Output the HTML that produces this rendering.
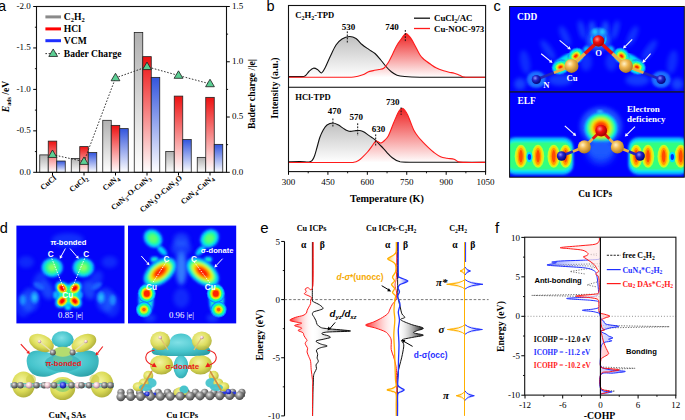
<!DOCTYPE html>
<html><head><meta charset="utf-8"><title>Figure</title>
<style>html,body{margin:0;padding:0;background:#fff;overflow:hidden}svg{display:block}</style></head>
<body><svg width="685" height="420" viewBox="0 0 685 420">
<defs>
<linearGradient id="gg" x1="0" y1="0" x2="0" y2="1"><stop offset="0" stop-color="#b0b0b0"/><stop offset="1" stop-color="#ffffff"/></linearGradient>
<linearGradient id="gr" x1="0" y1="0" x2="0" y2="1"><stop offset="0" stop-color="#ee1111"/><stop offset="1" stop-color="#ffffff"/></linearGradient>
<linearGradient id="gb" x1="0" y1="0" x2="0" y2="1"><stop offset="0" stop-color="#3355dd"/><stop offset="1" stop-color="#ffffff"/></linearGradient>
<linearGradient id="bgk" x1="0" y1="0" x2="0" y2="1"><stop offset="0" stop-color="#c0c0c0"/><stop offset="1" stop-color="#ffffff"/></linearGradient>
<linearGradient id="bgr" x1="0" y1="0" x2="0" y2="1"><stop offset="0" stop-color="#ee2222"/><stop offset="1" stop-color="#ffffff" stop-opacity="1"/></linearGradient>
<filter id="bl05" x="-20%" y="-20%" width="140%" height="140%"><feGaussianBlur stdDeviation="0.7"/></filter>
<filter id="bl1" x="-20%" y="-20%" width="140%" height="140%"><feGaussianBlur stdDeviation="1.1"/></filter>
<filter id="bl2" x="-30%" y="-30%" width="160%" height="160%"><feGaussianBlur stdDeviation="2.2"/></filter>
<filter id="bl3" x="-30%" y="-30%" width="160%" height="160%"><feGaussianBlur stdDeviation="3.5"/></filter>
<clipPath id="cCDD"><rect x="509.6" y="6.5" width="174.69999999999993" height="85.3"/></clipPath>
<clipPath id="cELF"><rect x="509.6" y="91.8" width="174.69999999999993" height="85.39999999999999"/></clipPath>
<radialGradient id="atCu" cx="0.38" cy="0.35" r="0.7"><stop offset="0" stop-color="#fff2c8"/><stop offset="0.4" stop-color="#f0b850"/><stop offset="1" stop-color="#a87420"/></radialGradient>
<radialGradient id="atO" cx="0.38" cy="0.35" r="0.7"><stop offset="0" stop-color="#ff9090"/><stop offset="0.4" stop-color="#ee1010"/><stop offset="1" stop-color="#990000"/></radialGradient>
<radialGradient id="atN" cx="0.38" cy="0.35" r="0.7"><stop offset="0" stop-color="#9090ff"/><stop offset="0.4" stop-color="#2222c8"/><stop offset="1" stop-color="#000070"/></radialGradient>
<clipPath id="dclip0"><rect x="16.4" y="225.6" width="108.1" height="97.79999999999998"/></clipPath>
<clipPath id="dclip1"><rect x="128.0" y="225.6" width="108.19999999999999" height="97.79999999999998"/></clipPath>
<radialGradient id="yel" cx="0.42" cy="0.38" r="0.7"><stop offset="0" stop-color="#f4f4a0"/><stop offset="0.55" stop-color="#dcdc58"/><stop offset="1" stop-color="#a4a434"/></radialGradient>
<radialGradient id="cya" cx="0.45" cy="0.4" r="0.75"><stop offset="0" stop-color="#80e0e6"/><stop offset="0.55" stop-color="#46c4cc"/><stop offset="1" stop-color="#26989f"/></radialGradient>
<radialGradient id="gat" cx="0.38" cy="0.35" r="0.7"><stop offset="0" stop-color="#e8e8e8"/><stop offset="0.45" stop-color="#8c8c8c"/><stop offset="1" stop-color="#3c3c3c"/></radialGradient>
<radialGradient id="pat" cx="0.38" cy="0.35" r="0.7"><stop offset="0" stop-color="#ffffff"/><stop offset="0.5" stop-color="#f0c8d0"/><stop offset="1" stop-color="#907080"/></radialGradient>
<radialGradient id="bat" cx="0.38" cy="0.35" r="0.7"><stop offset="0" stop-color="#a0a0ff"/><stop offset="0.5" stop-color="#3040e0"/><stop offset="1" stop-color="#101080"/></radialGradient>
<linearGradient id="eRed" gradientUnits="objectBoundingBox" x1="0" y1="0" x2="1" y2="0"><stop offset="0" stop-color="#ff2a2a"/><stop offset="1" stop-color="#ffffff" stop-opacity="0"/></linearGradient>
<linearGradient id="eBlk" gradientUnits="objectBoundingBox" x1="0" y1="0" x2="1" y2="0"><stop offset="0" stop-color="#ffffff" stop-opacity="0"/><stop offset="1" stop-color="#111111"/></linearGradient>
<linearGradient id="eOrg" gradientUnits="objectBoundingBox" x1="0" y1="0" x2="1" y2="0"><stop offset="0" stop-color="#ffb000"/><stop offset="1" stop-color="#ffffff" stop-opacity="0"/></linearGradient>
<linearGradient id="eBlu" gradientUnits="objectBoundingBox" x1="0" y1="0" x2="1" y2="0"><stop offset="0" stop-color="#ffffff" stop-opacity="0"/><stop offset="1" stop-color="#2a3bff"/></linearGradient>
<linearGradient id="fBluL" gradientUnits="objectBoundingBox" x1="0" y1="0" x2="1" y2="0"><stop offset="0" stop-color="#6070ff" stop-opacity="0.85"/><stop offset="1" stop-color="#ffffff" stop-opacity="0"/></linearGradient>
<linearGradient id="fRedL" gradientUnits="objectBoundingBox" x1="0" y1="0" x2="1" y2="0"><stop offset="0" stop-color="#ff5555" stop-opacity="0.5"/><stop offset="1" stop-color="#ffdddd" stop-opacity="0.5"/></linearGradient>
<linearGradient id="fBluR" gradientUnits="objectBoundingBox" x1="0" y1="0" x2="1" y2="0"><stop offset="0" stop-color="#dde0ff" stop-opacity="0.8"/><stop offset="1" stop-color="#8890ff" stop-opacity="0.8"/></linearGradient>
<linearGradient id="fRedR" gradientUnits="objectBoundingBox" x1="0" y1="0" x2="1" y2="0"><stop offset="0" stop-color="#ffe0e0" stop-opacity="0.8"/><stop offset="1" stop-color="#ff8888" stop-opacity="0.8"/></linearGradient>
</defs>
<rect x="0" y="0" width="685" height="420" fill="#fff"/>
<text x="-1.95" y="11.00" style="font-family:'Liberation Sans',sans-serif;font-size:14.5px;font-weight:normal;font-style:normal" text-anchor="start" fill="#000" >a</text>
<rect x="39.75" y="154.89" width="8.50" height="17.41" fill="url(#gg)" stroke="#222" stroke-width="0.8"/>
<rect x="48.25" y="141.13" width="8.50" height="31.17" fill="url(#gr)" stroke="#222" stroke-width="0.8"/>
<rect x="56.75" y="161.03" width="8.50" height="11.27" fill="url(#gb)" stroke="#222" stroke-width="0.8"/>
<rect x="71.25" y="158.54" width="8.50" height="13.76" fill="url(#gg)" stroke="#222" stroke-width="0.8"/>
<rect x="79.75" y="146.60" width="8.50" height="25.70" fill="url(#gr)" stroke="#222" stroke-width="0.8"/>
<rect x="88.25" y="152.57" width="8.50" height="19.73" fill="url(#gb)" stroke="#222" stroke-width="0.8"/>
<rect x="102.75" y="120.32" width="8.50" height="51.98" fill="url(#gg)" stroke="#222" stroke-width="0.8"/>
<rect x="111.25" y="125.38" width="8.50" height="46.92" fill="url(#gr)" stroke="#222" stroke-width="0.8"/>
<rect x="119.75" y="128.61" width="8.50" height="43.69" fill="url(#gb)" stroke="#222" stroke-width="0.8"/>
<rect x="134.25" y="32.45" width="8.50" height="139.85" fill="url(#gg)" stroke="#222" stroke-width="0.8"/>
<rect x="142.75" y="56.65" width="8.50" height="115.65" fill="url(#gr)" stroke="#222" stroke-width="0.8"/>
<rect x="151.25" y="77.38" width="8.50" height="94.92" fill="url(#gb)" stroke="#222" stroke-width="0.8"/>
<rect x="165.75" y="151.58" width="8.50" height="20.73" fill="url(#gg)" stroke="#222" stroke-width="0.8"/>
<rect x="174.25" y="96.11" width="8.50" height="76.19" fill="url(#gr)" stroke="#222" stroke-width="0.8"/>
<rect x="182.75" y="139.55" width="8.50" height="32.75" fill="url(#gb)" stroke="#222" stroke-width="0.8"/>
<rect x="197.25" y="157.38" width="8.50" height="14.92" fill="url(#gg)" stroke="#222" stroke-width="0.8"/>
<rect x="205.75" y="97.36" width="8.50" height="74.94" fill="url(#gr)" stroke="#222" stroke-width="0.8"/>
<rect x="214.25" y="144.36" width="8.50" height="27.94" fill="url(#gb)" stroke="#222" stroke-width="0.8"/>
<path d="M52.50,154.61 L84.00,161.58 L115.50,77.90 L147.00,66.74 L178.50,75.47 L210.00,83.87" stroke="#222" stroke-width="0.9" fill="none" stroke-dasharray="1.6,1.6"/>
<path d="M52.50,149.98 L56.90,157.46 L48.10,157.46 Z" fill="#5ccf94" stroke="#1a1a1a" stroke-width="0.8"/>
<path d="M84.00,156.94 L88.40,164.42 L79.60,164.42 Z" fill="#5ccf94" stroke="#1a1a1a" stroke-width="0.8"/>
<path d="M115.50,73.27 L119.90,80.75 L111.10,80.75 Z" fill="#5ccf94" stroke="#1a1a1a" stroke-width="0.8"/>
<path d="M147.00,62.10 L151.40,69.58 L142.60,69.58 Z" fill="#5ccf94" stroke="#1a1a1a" stroke-width="0.8"/>
<path d="M178.50,70.84 L182.90,78.32 L174.10,78.32 Z" fill="#5ccf94" stroke="#1a1a1a" stroke-width="0.8"/>
<path d="M210.00,79.24 L214.40,86.72 L205.60,86.72 Z" fill="#5ccf94" stroke="#1a1a1a" stroke-width="0.8"/>
<rect x="36.5" y="6.5" width="190.0" height="165.8" fill="none" stroke="#111" stroke-width="1.1"/>
<line x1="33.20" y1="172.30" x2="36.50" y2="172.30" stroke="#000" stroke-width="1" />
<text x="30.70" y="174.60" style="font-family:'Liberation Serif',serif;font-size:9px;font-weight:normal;font-style:normal" text-anchor="end" fill="#000" >0.0</text>
<line x1="34.90" y1="151.58" x2="36.50" y2="151.58" stroke="#000" stroke-width="0.9" />
<line x1="33.20" y1="130.85" x2="36.50" y2="130.85" stroke="#000" stroke-width="1" />
<text x="30.70" y="133.15" style="font-family:'Liberation Serif',serif;font-size:9px;font-weight:normal;font-style:normal" text-anchor="end" fill="#000" >-0.5</text>
<line x1="34.90" y1="110.12" x2="36.50" y2="110.12" stroke="#000" stroke-width="0.9" />
<line x1="33.20" y1="89.40" x2="36.50" y2="89.40" stroke="#000" stroke-width="1" />
<text x="30.70" y="91.70" style="font-family:'Liberation Serif',serif;font-size:9px;font-weight:normal;font-style:normal" text-anchor="end" fill="#000" >-1.0</text>
<line x1="34.90" y1="68.68" x2="36.50" y2="68.68" stroke="#000" stroke-width="0.9" />
<line x1="33.20" y1="47.95" x2="36.50" y2="47.95" stroke="#000" stroke-width="1" />
<text x="30.70" y="50.25" style="font-family:'Liberation Serif',serif;font-size:9px;font-weight:normal;font-style:normal" text-anchor="end" fill="#000" >-1.5</text>
<line x1="34.90" y1="27.22" x2="36.50" y2="27.22" stroke="#000" stroke-width="0.9" />
<line x1="33.20" y1="6.50" x2="36.50" y2="6.50" stroke="#000" stroke-width="1" />
<text x="30.70" y="8.80" style="font-family:'Liberation Serif',serif;font-size:9px;font-weight:normal;font-style:normal" text-anchor="end" fill="#000" >-2.0</text>
<line x1="226.50" y1="172.30" x2="229.80" y2="172.30" stroke="#000" stroke-width="1" />
<text x="232.10" y="174.60" style="font-family:'Liberation Serif',serif;font-size:9px;font-weight:normal;font-style:normal" text-anchor="start" fill="#000" >0.0</text>
<line x1="226.50" y1="144.67" x2="228.10" y2="144.67" stroke="#000" stroke-width="0.9" />
<line x1="226.50" y1="117.03" x2="229.80" y2="117.03" stroke="#000" stroke-width="1" />
<text x="232.10" y="119.33" style="font-family:'Liberation Serif',serif;font-size:9px;font-weight:normal;font-style:normal" text-anchor="start" fill="#000" >0.5</text>
<line x1="226.50" y1="89.40" x2="228.10" y2="89.40" stroke="#000" stroke-width="0.9" />
<line x1="226.50" y1="61.77" x2="229.80" y2="61.77" stroke="#000" stroke-width="1" />
<text x="232.10" y="64.07" style="font-family:'Liberation Serif',serif;font-size:9px;font-weight:normal;font-style:normal" text-anchor="start" fill="#000" >1.0</text>
<line x1="226.50" y1="34.13" x2="228.10" y2="34.13" stroke="#000" stroke-width="0.9" />
<line x1="226.50" y1="6.50" x2="229.80" y2="6.50" stroke="#000" stroke-width="1" />
<text x="232.10" y="8.80" style="font-family:'Liberation Serif',serif;font-size:9px;font-weight:normal;font-style:normal" text-anchor="start" fill="#000" >1.5</text>
<line x1="52.50" y1="172.30" x2="52.50" y2="175.50" stroke="#000" stroke-width="1" />
<line x1="84.00" y1="172.30" x2="84.00" y2="175.50" stroke="#000" stroke-width="1" />
<line x1="115.50" y1="172.30" x2="115.50" y2="175.50" stroke="#000" stroke-width="1" />
<line x1="147.00" y1="172.30" x2="147.00" y2="175.50" stroke="#000" stroke-width="1" />
<line x1="178.50" y1="172.30" x2="178.50" y2="175.50" stroke="#000" stroke-width="1" />
<line x1="210.00" y1="172.30" x2="210.00" y2="175.50" stroke="#000" stroke-width="1" />
<text x="56.70" y="178.90" transform="rotate(-40 56.70 178.90)" text-anchor="end" style="font-family:'Liberation Serif',serif;font-size:7.9px;font-weight:bold">CuCl</text>
<text x="88.20" y="178.90" transform="rotate(-40 88.20 178.90)" text-anchor="end" style="font-family:'Liberation Serif',serif;font-size:7.9px;font-weight:bold">CuCl<tspan font-size="6" dy="2">2</tspan></text>
<text x="119.70" y="178.90" transform="rotate(-40 119.70 178.90)" text-anchor="end" style="font-family:'Liberation Serif',serif;font-size:7.9px;font-weight:bold">CuN<tspan font-size="6" dy="2">4</tspan></text>
<text x="151.20" y="178.90" transform="rotate(-40 151.20 178.90)" text-anchor="end" style="font-family:'Liberation Serif',serif;font-size:7.9px;font-weight:bold">CuN<tspan font-size="6" dy="2">3</tspan><tspan dy="-2">-O-CuN</tspan><tspan font-size="6" dy="2">3</tspan></text>
<text x="182.70" y="178.90" transform="rotate(-40 182.70 178.90)" text-anchor="end" style="font-family:'Liberation Serif',serif;font-size:7.9px;font-weight:bold">CuN<tspan font-size="6" dy="2">3</tspan><tspan dy="-2">O-CuN</tspan><tspan font-size="6" dy="2">3</tspan><tspan dy="-2">O</tspan></text>
<text x="214.20" y="178.90" transform="rotate(-40 214.20 178.90)" text-anchor="end" style="font-family:'Liberation Serif',serif;font-size:7.9px;font-weight:bold">CuN<tspan font-size="6" dy="2">4</tspan><tspan dy="-2">-CuN</tspan><tspan font-size="6" dy="2">4</tspan></text>
<line x1="45.40" y1="16.90" x2="61.00" y2="16.90" stroke="#8a8a8a" stroke-width="3" />
<line x1="45.40" y1="28.90" x2="61.00" y2="28.90" stroke="#ff0000" stroke-width="3" />
<line x1="45.40" y1="40.70" x2="61.00" y2="40.70" stroke="#1f2fff" stroke-width="3" />
<line x1="45.40" y1="53.60" x2="61.00" y2="53.60" stroke="#222" stroke-width="0.9" stroke-dasharray="1.6,1.6"/>
<path d="M53.20,48.96 L57.60,56.44 L48.80,56.44 Z" fill="#5ccf94" stroke="#1a1a1a" stroke-width="0.8"/>
<text x="63.8" y="20.4" style="font-family:'Liberation Serif',serif;font-size:9.6px;font-weight:bold">C<tspan font-size="6.5" dy="2">2</tspan><tspan dy="-2">H</tspan><tspan font-size="6.5" dy="2">2</tspan></text>
<text x="63.80" y="32.30" style="font-family:'Liberation Serif',serif;font-size:9.6px;font-weight:bold;font-style:normal" text-anchor="start" fill="#000" >HCl</text>
<text x="63.80" y="44.10" style="font-family:'Liberation Serif',serif;font-size:9.6px;font-weight:bold;font-style:normal" text-anchor="start" fill="#000" >VCM</text>
<text x="63.80" y="57.00" style="font-family:'Liberation Serif',serif;font-size:9.6px;font-weight:bold;font-style:normal" text-anchor="start" fill="#000" >Bader Charge</text>
<text x="8.8" y="96.5" transform="rotate(-90 8.8 96.5)" text-anchor="middle" style="font-family:'Liberation Serif',serif;font-size:9.6px;font-weight:bold"><tspan font-style="italic">E</tspan><tspan font-size="6" dy="2">ads</tspan><tspan dy="-2"> /eV</tspan></text>
<text x="254.8" y="94" transform="rotate(-90 254.8 94)" text-anchor="middle" style="font-family:'Liberation Serif',serif;font-size:9.8px;font-weight:bold">Bader charge /|e|</text>
<text x="266.45" y="10.90" style="font-family:'Liberation Sans',sans-serif;font-size:14.5px;font-weight:normal;font-style:normal" text-anchor="start" fill="#000" >b</text>
<path d="M288.50,76.60 C290.42,76.60 297.25,76.70 300.00,76.60 C302.75,76.50 303.50,76.85 305.00,76.00 C306.50,75.15 307.60,72.80 309.00,71.50 C310.40,70.20 311.98,68.53 313.40,68.20 C314.82,67.87 316.15,68.70 317.50,69.50 C318.85,70.30 320.25,73.25 321.50,73.00 C322.75,72.75 323.58,70.67 325.00,68.00 C326.42,65.33 328.17,60.83 330.00,57.00 C331.83,53.17 334.00,48.00 336.00,45.00 C338.00,42.00 339.77,40.42 342.00,39.00 C344.23,37.58 347.07,36.58 349.40,36.50 C351.73,36.42 353.90,37.17 356.00,38.50 C358.10,39.83 359.87,42.68 362.00,44.50 C364.13,46.32 366.63,47.90 368.80,49.40 C370.97,50.90 373.00,51.73 375.00,53.50 C377.00,55.27 378.97,57.83 380.80,60.00 C382.63,62.17 384.25,64.53 386.00,66.50 C387.75,68.47 389.47,70.35 391.30,71.80 C393.13,73.25 394.77,74.42 397.00,75.20 C399.23,75.98 400.87,76.17 404.70,76.50 C408.53,76.83 412.45,77.07 420.00,77.20 C427.55,77.33 439.03,77.28 450.00,77.30 C460.97,77.32 479.83,77.30 485.80,77.30 L485.80,77.30 L288.50,77.30 Z" fill="url(#bgk)" stroke="none"/>
<path d="M288.50,77.20 C297.08,77.20 329.12,77.23 340.00,77.20 C350.88,77.17 350.00,77.40 353.80,77.00 C357.60,76.60 360.43,75.63 362.80,74.80 C365.17,73.97 366.25,72.70 368.00,72.00 C369.75,71.30 371.47,71.02 373.30,70.60 C375.13,70.18 377.25,69.90 379.00,69.50 C380.75,69.10 382.30,69.28 383.80,68.20 C385.30,67.12 386.52,65.38 388.00,63.00 C389.48,60.62 391.28,56.73 392.70,53.90 C394.12,51.07 395.25,48.25 396.50,46.00 C397.75,43.75 398.68,42.43 400.20,40.40 C401.72,38.37 404.13,34.53 405.60,33.80 C407.07,33.07 407.90,34.90 409.00,36.00 C410.10,37.10 411.03,38.48 412.20,40.40 C413.37,42.32 414.75,45.15 416.00,47.50 C417.25,49.85 418.53,52.67 419.70,54.50 C420.87,56.33 421.88,57.38 423.00,58.50 C424.12,59.62 425.07,60.20 426.40,61.20 C427.73,62.20 429.40,63.40 431.00,64.50 C432.60,65.60 433.90,66.75 436.00,67.80 C438.10,68.85 441.43,70.07 443.60,70.80 C445.77,71.53 447.22,71.80 449.00,72.20 C450.78,72.60 452.53,72.68 454.30,73.20 C456.07,73.72 458.00,74.67 459.60,75.30 C461.20,75.93 462.17,76.67 463.90,77.00 C465.63,77.33 466.38,77.25 470.00,77.30 C473.62,77.35 483.00,77.30 485.60,77.30 L485.60,77.30 L288.50,77.30 Z" fill="url(#bgr)" stroke="none"/>
<path d="M288.50,161.80 C290.42,161.77 296.58,161.57 300.00,161.60 C303.42,161.63 306.97,162.20 309.00,162.00 C311.03,161.80 311.28,161.40 312.20,160.40 C313.12,159.40 313.70,158.15 314.50,156.00 C315.30,153.85 316.12,150.58 317.00,147.50 C317.88,144.42 318.77,140.43 319.80,137.50 C320.83,134.57 322.00,131.98 323.20,129.90 C324.40,127.82 325.38,126.15 327.00,125.00 C328.62,123.85 331.07,123.03 332.90,123.00 C334.73,122.97 336.25,123.90 338.00,124.80 C339.75,125.70 341.90,127.45 343.40,128.40 C344.90,129.35 345.77,130.00 347.00,130.50 C348.23,131.00 349.47,131.37 350.80,131.40 C352.13,131.43 353.50,130.85 355.00,130.70 C356.50,130.55 358.30,130.28 359.80,130.50 C361.30,130.72 362.75,131.35 364.00,132.00 C365.25,132.65 366.05,133.53 367.30,134.40 C368.55,135.27 370.10,136.20 371.50,137.20 C372.90,138.20 374.12,138.93 375.70,140.40 C377.28,141.87 379.15,144.02 381.00,146.00 C382.85,147.98 384.97,150.38 386.80,152.30 C388.63,154.22 390.02,156.00 392.00,157.50 C393.98,159.00 395.70,160.52 398.70,161.30 C401.70,162.08 395.48,162.03 410.00,162.20 C424.52,162.37 473.17,162.28 485.80,162.30 L485.80,162.30 L288.50,162.30 Z" fill="url(#bgk)" stroke="none"/>
<path d="M288.50,162.50 C297.92,162.50 334.12,162.53 345.00,162.50 C355.88,162.47 351.55,162.63 353.80,162.30 C356.05,161.97 357.00,161.42 358.50,160.50 C360.00,159.58 361.30,158.22 362.80,156.80 C364.30,155.38 366.00,153.73 367.50,152.00 C369.00,150.27 370.43,148.20 371.80,146.40 C373.17,144.60 374.58,141.93 375.70,141.20 C376.82,140.47 377.62,141.70 378.50,142.00 C379.38,142.30 380.00,143.25 381.00,143.00 C382.00,142.75 383.28,141.68 384.50,140.50 C385.72,139.32 387.05,138.15 388.30,135.90 C389.55,133.65 390.77,130.00 392.00,127.00 C393.23,124.00 394.53,120.57 395.70,117.90 C396.87,115.23 397.90,112.60 399.00,111.00 C400.10,109.40 401.30,108.38 402.30,108.30 C403.30,108.22 404.10,109.40 405.00,110.50 C405.90,111.60 406.78,112.98 407.70,114.90 C408.62,116.82 409.50,119.50 410.50,122.00 C411.50,124.50 412.45,127.48 413.70,129.90 C414.95,132.32 416.50,134.50 418.00,136.50 C419.50,138.50 420.92,140.00 422.70,141.90 C424.48,143.80 426.82,146.13 428.70,147.90 C430.58,149.67 432.02,151.02 434.00,152.50 C435.98,153.98 438.43,155.83 440.60,156.80 C442.77,157.77 444.75,157.90 447.00,158.30 C449.25,158.70 452.17,158.60 454.10,159.20 C456.03,159.80 456.78,161.37 458.60,161.90 C460.42,162.43 460.47,162.32 465.00,162.40 C469.53,162.48 482.33,162.40 485.80,162.40 L485.80,162.40 L288.50,162.40 Z" fill="url(#bgr)" stroke="none"/>
<path d="M288.50,76.60 C290.42,76.60 297.25,76.70 300.00,76.60 C302.75,76.50 303.50,76.85 305.00,76.00 C306.50,75.15 307.60,72.80 309.00,71.50 C310.40,70.20 311.98,68.53 313.40,68.20 C314.82,67.87 316.15,68.70 317.50,69.50 C318.85,70.30 320.25,73.25 321.50,73.00 C322.75,72.75 323.58,70.67 325.00,68.00 C326.42,65.33 328.17,60.83 330.00,57.00 C331.83,53.17 334.00,48.00 336.00,45.00 C338.00,42.00 339.77,40.42 342.00,39.00 C344.23,37.58 347.07,36.58 349.40,36.50 C351.73,36.42 353.90,37.17 356.00,38.50 C358.10,39.83 359.87,42.68 362.00,44.50 C364.13,46.32 366.63,47.90 368.80,49.40 C370.97,50.90 373.00,51.73 375.00,53.50 C377.00,55.27 378.97,57.83 380.80,60.00 C382.63,62.17 384.25,64.53 386.00,66.50 C387.75,68.47 389.47,70.35 391.30,71.80 C393.13,73.25 394.77,74.42 397.00,75.20 C399.23,75.98 400.87,76.17 404.70,76.50 C408.53,76.83 412.45,77.07 420.00,77.20 C427.55,77.33 439.03,77.28 450.00,77.30 C460.97,77.32 479.83,77.30 485.80,77.30" fill="none" stroke="#111" stroke-width="1.1"/>
<path d="M288.50,77.20 C297.08,77.20 329.12,77.23 340.00,77.20 C350.88,77.17 350.00,77.40 353.80,77.00 C357.60,76.60 360.43,75.63 362.80,74.80 C365.17,73.97 366.25,72.70 368.00,72.00 C369.75,71.30 371.47,71.02 373.30,70.60 C375.13,70.18 377.25,69.90 379.00,69.50 C380.75,69.10 382.30,69.28 383.80,68.20 C385.30,67.12 386.52,65.38 388.00,63.00 C389.48,60.62 391.28,56.73 392.70,53.90 C394.12,51.07 395.25,48.25 396.50,46.00 C397.75,43.75 398.68,42.43 400.20,40.40 C401.72,38.37 404.13,34.53 405.60,33.80 C407.07,33.07 407.90,34.90 409.00,36.00 C410.10,37.10 411.03,38.48 412.20,40.40 C413.37,42.32 414.75,45.15 416.00,47.50 C417.25,49.85 418.53,52.67 419.70,54.50 C420.87,56.33 421.88,57.38 423.00,58.50 C424.12,59.62 425.07,60.20 426.40,61.20 C427.73,62.20 429.40,63.40 431.00,64.50 C432.60,65.60 433.90,66.75 436.00,67.80 C438.10,68.85 441.43,70.07 443.60,70.80 C445.77,71.53 447.22,71.80 449.00,72.20 C450.78,72.60 452.53,72.68 454.30,73.20 C456.07,73.72 458.00,74.67 459.60,75.30 C461.20,75.93 462.17,76.67 463.90,77.00 C465.63,77.33 466.38,77.25 470.00,77.30 C473.62,77.35 483.00,77.30 485.60,77.30" fill="none" stroke="#ff1a1a" stroke-width="1.1"/>
<path d="M288.50,161.80 C290.42,161.77 296.58,161.57 300.00,161.60 C303.42,161.63 306.97,162.20 309.00,162.00 C311.03,161.80 311.28,161.40 312.20,160.40 C313.12,159.40 313.70,158.15 314.50,156.00 C315.30,153.85 316.12,150.58 317.00,147.50 C317.88,144.42 318.77,140.43 319.80,137.50 C320.83,134.57 322.00,131.98 323.20,129.90 C324.40,127.82 325.38,126.15 327.00,125.00 C328.62,123.85 331.07,123.03 332.90,123.00 C334.73,122.97 336.25,123.90 338.00,124.80 C339.75,125.70 341.90,127.45 343.40,128.40 C344.90,129.35 345.77,130.00 347.00,130.50 C348.23,131.00 349.47,131.37 350.80,131.40 C352.13,131.43 353.50,130.85 355.00,130.70 C356.50,130.55 358.30,130.28 359.80,130.50 C361.30,130.72 362.75,131.35 364.00,132.00 C365.25,132.65 366.05,133.53 367.30,134.40 C368.55,135.27 370.10,136.20 371.50,137.20 C372.90,138.20 374.12,138.93 375.70,140.40 C377.28,141.87 379.15,144.02 381.00,146.00 C382.85,147.98 384.97,150.38 386.80,152.30 C388.63,154.22 390.02,156.00 392.00,157.50 C393.98,159.00 395.70,160.52 398.70,161.30 C401.70,162.08 395.48,162.03 410.00,162.20 C424.52,162.37 473.17,162.28 485.80,162.30" fill="none" stroke="#111" stroke-width="1.1"/>
<path d="M288.50,162.50 C297.92,162.50 334.12,162.53 345.00,162.50 C355.88,162.47 351.55,162.63 353.80,162.30 C356.05,161.97 357.00,161.42 358.50,160.50 C360.00,159.58 361.30,158.22 362.80,156.80 C364.30,155.38 366.00,153.73 367.50,152.00 C369.00,150.27 370.43,148.20 371.80,146.40 C373.17,144.60 374.58,141.93 375.70,141.20 C376.82,140.47 377.62,141.70 378.50,142.00 C379.38,142.30 380.00,143.25 381.00,143.00 C382.00,142.75 383.28,141.68 384.50,140.50 C385.72,139.32 387.05,138.15 388.30,135.90 C389.55,133.65 390.77,130.00 392.00,127.00 C393.23,124.00 394.53,120.57 395.70,117.90 C396.87,115.23 397.90,112.60 399.00,111.00 C400.10,109.40 401.30,108.38 402.30,108.30 C403.30,108.22 404.10,109.40 405.00,110.50 C405.90,111.60 406.78,112.98 407.70,114.90 C408.62,116.82 409.50,119.50 410.50,122.00 C411.50,124.50 412.45,127.48 413.70,129.90 C414.95,132.32 416.50,134.50 418.00,136.50 C419.50,138.50 420.92,140.00 422.70,141.90 C424.48,143.80 426.82,146.13 428.70,147.90 C430.58,149.67 432.02,151.02 434.00,152.50 C435.98,153.98 438.43,155.83 440.60,156.80 C442.77,157.77 444.75,157.90 447.00,158.30 C449.25,158.70 452.17,158.60 454.10,159.20 C456.03,159.80 456.78,161.37 458.60,161.90 C460.42,162.43 460.47,162.32 465.00,162.40 C469.53,162.48 482.33,162.40 485.80,162.40" fill="none" stroke="#ff1a1a" stroke-width="1.1"/>
<rect x="288.5" y="5.5" width="197.10000000000002" height="166.1" fill="none" stroke="#111" stroke-width="1.1"/>
<line x1="288.50" y1="87.30" x2="485.60" y2="87.30" stroke="#000" stroke-width="1.1" />
<line x1="288.50" y1="171.60" x2="288.50" y2="174.80" stroke="#000" stroke-width="1" />
<text x="288.50" y="185.00" style="font-family:'Liberation Serif',serif;font-size:9px;font-weight:normal;font-style:normal" text-anchor="middle" fill="#000" >300</text>
<line x1="308.21" y1="171.60" x2="308.21" y2="173.30" stroke="#000" stroke-width="0.9" />
<line x1="327.92" y1="171.60" x2="327.92" y2="174.80" stroke="#000" stroke-width="1" />
<text x="327.92" y="185.00" style="font-family:'Liberation Serif',serif;font-size:9px;font-weight:normal;font-style:normal" text-anchor="middle" fill="#000" >450</text>
<line x1="347.63" y1="171.60" x2="347.63" y2="173.30" stroke="#000" stroke-width="0.9" />
<line x1="367.34" y1="171.60" x2="367.34" y2="174.80" stroke="#000" stroke-width="1" />
<text x="367.34" y="185.00" style="font-family:'Liberation Serif',serif;font-size:9px;font-weight:normal;font-style:normal" text-anchor="middle" fill="#000" >600</text>
<line x1="387.05" y1="171.60" x2="387.05" y2="173.30" stroke="#000" stroke-width="0.9" />
<line x1="406.76" y1="171.60" x2="406.76" y2="174.80" stroke="#000" stroke-width="1" />
<text x="406.76" y="185.00" style="font-family:'Liberation Serif',serif;font-size:9px;font-weight:normal;font-style:normal" text-anchor="middle" fill="#000" >750</text>
<line x1="426.47" y1="171.60" x2="426.47" y2="173.30" stroke="#000" stroke-width="0.9" />
<line x1="446.18" y1="171.60" x2="446.18" y2="174.80" stroke="#000" stroke-width="1" />
<text x="446.18" y="185.00" style="font-family:'Liberation Serif',serif;font-size:9px;font-weight:normal;font-style:normal" text-anchor="middle" fill="#000" >900</text>
<line x1="465.89" y1="171.60" x2="465.89" y2="173.30" stroke="#000" stroke-width="0.9" />
<line x1="485.60" y1="171.60" x2="485.60" y2="174.80" stroke="#000" stroke-width="1" />
<text x="485.60" y="185.00" style="font-family:'Liberation Serif',serif;font-size:9px;font-weight:normal;font-style:normal" text-anchor="middle" fill="#000" >1050</text>
<text x="295.3" y="18.2" style="font-family:'Liberation Serif',serif;font-size:8.6px;font-weight:bold">C<tspan font-size="6" dy="1.8">2</tspan><tspan dy="-1.8">H</tspan><tspan font-size="6" dy="1.8">2</tspan><tspan dy="-1.8">-TPD</tspan></text>
<text x="295.30" y="99.80" style="font-family:'Liberation Serif',serif;font-size:8.6px;font-weight:bold;font-style:normal" text-anchor="start" fill="#000" >HCl-TPD</text>
<text x="348.50" y="29.60" style="font-family:'Liberation Serif',serif;font-size:9.0px;font-weight:bold;font-style:normal" text-anchor="middle" fill="#000" >530</text>
<text x="391.90" y="30.20" style="font-family:'Liberation Serif',serif;font-size:9.0px;font-weight:bold;font-style:normal" text-anchor="middle" fill="#000" >740</text>
<text x="334.40" y="113.70" style="font-family:'Liberation Serif',serif;font-size:9.0px;font-weight:bold;font-style:normal" text-anchor="middle" fill="#000" >470</text>
<text x="356.20" y="120.30" style="font-family:'Liberation Serif',serif;font-size:9.0px;font-weight:bold;font-style:normal" text-anchor="middle" fill="#000" >570</text>
<text x="378.40" y="131.70" style="font-family:'Liberation Serif',serif;font-size:9.0px;font-weight:bold;font-style:normal" text-anchor="middle" fill="#000" >630</text>
<text x="392.70" y="105.30" style="font-family:'Liberation Serif',serif;font-size:9.0px;font-weight:bold;font-style:normal" text-anchor="middle" fill="#000" >730</text>
<line x1="347.30" y1="31.40" x2="347.30" y2="43.40" stroke="#111" stroke-width="1" stroke-dasharray="1.8,1.3"/>
<line x1="405.30" y1="30.00" x2="405.30" y2="41.90" stroke="#111" stroke-width="1" stroke-dasharray="1.8,1.3"/>
<line x1="332.90" y1="118.50" x2="332.90" y2="126.90" stroke="#111" stroke-width="1" stroke-dasharray="1.8,1.3"/>
<line x1="357.70" y1="123.30" x2="357.70" y2="135.90" stroke="#111" stroke-width="1" stroke-dasharray="1.8,1.3"/>
<line x1="375.70" y1="134.40" x2="375.70" y2="146.40" stroke="#111" stroke-width="1" stroke-dasharray="1.8,1.3"/>
<line x1="401.10" y1="107.40" x2="401.10" y2="114.90" stroke="#111" stroke-width="1" stroke-dasharray="1.8,1.3"/>
<line x1="414.00" y1="18.20" x2="430.00" y2="18.20" stroke="#111" stroke-width="1.3" />
<line x1="414.00" y1="28.50" x2="430.00" y2="28.50" stroke="#ff1a1a" stroke-width="1.3" />
<text x="434" y="21.4" style="font-family:'Liberation Serif',serif;font-size:8.9px;font-weight:bold">CuCl<tspan font-size="6" dy="2">2</tspan><tspan dy="-2">/AC</tspan></text>
<text x="434.00" y="31.60" style="font-family:'Liberation Serif',serif;font-size:8.9px;font-weight:bold;font-style:normal" text-anchor="start" fill="#000" >Cu-NOC-973</text>
<text x="387.00" y="202.40" style="font-family:'Liberation Serif',serif;font-size:10.2px;font-weight:bold;font-style:normal" text-anchor="middle" fill="#000" >Temperature (K)</text>
<text x="277.6" y="88" transform="rotate(-90 277.6 88)" text-anchor="middle" style="font-family:'Liberation Serif',serif;font-size:9.8px;font-weight:bold">Intensity (a.u.)</text>
<text x="493.60" y="11.20" style="font-family:'Liberation Sans',sans-serif;font-size:14.5px;font-weight:normal;font-style:normal" text-anchor="start" fill="#000" >c</text>
<rect x="509.6" y="6.5" width="174.69999999999993" height="85.3" fill="#0000ff"/>
<g clip-path="url(#cCDD)">
<ellipse cx="661.10" cy="79.5" rx="9" ry="7" transform="rotate(0 661.10 79.5)" fill="#2a80ff" opacity="0.7" filter="url(#bl2)"/>
<ellipse cx="672.40" cy="62" rx="5" ry="12" transform="rotate(10 672.40 62)" fill="#2a80ff" opacity="0.35" filter="url(#bl2)"/>
<ellipse cx="649.40" cy="50" rx="4" ry="12" transform="rotate(35 649.40 50)" fill="#2a80ff" opacity="0.4" filter="url(#bl2)"/>
<ellipse cx="632.40" cy="36" rx="4" ry="11" transform="rotate(25 632.40 36)" fill="#2a80ff" opacity="0.4" filter="url(#bl2)"/>
<ellipse cx="615.40" cy="30" rx="3.5" ry="10" transform="rotate(15 615.40 30)" fill="#2a80ff" opacity="0.45" filter="url(#bl2)"/>
<ellipse cx="605.40" cy="28" rx="3.5" ry="7" transform="rotate(0 605.40 28)" fill="#2a80ff" opacity="0.6" filter="url(#bl2)"/>
<ellipse cx="637.40" cy="80" rx="12" ry="6" transform="rotate(0 637.40 80)" fill="#2a80ff" opacity="0.45" filter="url(#bl2)"/>
<ellipse cx="611.40" cy="62" rx="6" ry="9" transform="rotate(0 611.40 62)" fill="#2a80ff" opacity="0.35" filter="url(#bl2)"/>
<ellipse cx="677.40" cy="84" rx="6" ry="6" transform="rotate(0 677.40 84)" fill="#2a80ff" opacity="0.5" filter="url(#bl2)"/>
<path d="M640.40,64.5 Q632.40,58 624.40,55" stroke="#00d8ff" stroke-width="7" fill="none" filter="url(#bl1)"/>
<g filter="url(#bl05)" transform="rotate(20 636.90 67.00)"><ellipse cx="636.90" cy="67.00" rx="9.0" ry="7.4" fill="#1080ff"/><ellipse cx="636.90" cy="67.00" rx="7.8" ry="6.3" fill="#00d8ff"/><ellipse cx="636.90" cy="67.00" rx="6.2" ry="4.9" fill="#20ff90"/><ellipse cx="636.90" cy="67.00" rx="4.5" ry="3.5" fill="#d0ff20"/><ellipse cx="636.90" cy="67.00" rx="3.2" ry="2.5" fill="#ffb000"/><ellipse cx="636.90" cy="67.00" rx="2.1" ry="1.6" fill="#ff2000"/></g>
<g filter="url(#bl05)" transform="rotate(43 621.60 56.00)"><ellipse cx="621.60" cy="56.00" rx="9.0" ry="7.4" fill="#1080ff"/><ellipse cx="621.60" cy="56.00" rx="7.8" ry="6.3" fill="#00d8ff"/><ellipse cx="621.60" cy="56.00" rx="6.2" ry="4.9" fill="#20ff90"/><ellipse cx="621.60" cy="56.00" rx="4.5" ry="3.5" fill="#d0ff20"/><ellipse cx="621.60" cy="56.00" rx="3.2" ry="2.5" fill="#ffb000"/><ellipse cx="621.60" cy="56.00" rx="2.1" ry="1.6" fill="#ff2000"/></g>
<g filter="url(#bl1)" transform="rotate(43 629.90 61.00)"><ellipse cx="629.90" cy="61.00" rx="3.5" ry="2.5" fill="#30ff90"/></g>
<g filter="url(#bl1)" transform="rotate(43 610.90 49.00)"><ellipse cx="610.90" cy="49.00" rx="4.0" ry="3.0" fill="#1a90ff"/><ellipse cx="610.90" cy="49.00" rx="2.5" ry="1.8" fill="#00d0ff"/></g>
<g filter="url(#bl1)" transform="rotate(0 661.10 79.50)"><ellipse cx="661.10" cy="79.50" rx="9" ry="8" fill="#1a70ff"/></g>
<ellipse cx="536.30" cy="79.5" rx="9" ry="7" transform="rotate(0 536.30 79.5)" fill="#2a80ff" opacity="0.7" filter="url(#bl2)"/>
<ellipse cx="525.00" cy="62" rx="5" ry="12" transform="rotate(-10 525.00 62)" fill="#2a80ff" opacity="0.35" filter="url(#bl2)"/>
<ellipse cx="548.00" cy="50" rx="4" ry="12" transform="rotate(-35 548.00 50)" fill="#2a80ff" opacity="0.4" filter="url(#bl2)"/>
<ellipse cx="565.00" cy="36" rx="4" ry="11" transform="rotate(-25 565.00 36)" fill="#2a80ff" opacity="0.4" filter="url(#bl2)"/>
<ellipse cx="582.00" cy="30" rx="3.5" ry="10" transform="rotate(-15 582.00 30)" fill="#2a80ff" opacity="0.45" filter="url(#bl2)"/>
<ellipse cx="592.00" cy="28" rx="3.5" ry="7" transform="rotate(0 592.00 28)" fill="#2a80ff" opacity="0.6" filter="url(#bl2)"/>
<ellipse cx="560.00" cy="80" rx="12" ry="6" transform="rotate(0 560.00 80)" fill="#2a80ff" opacity="0.45" filter="url(#bl2)"/>
<ellipse cx="586.00" cy="62" rx="6" ry="9" transform="rotate(0 586.00 62)" fill="#2a80ff" opacity="0.35" filter="url(#bl2)"/>
<ellipse cx="520.00" cy="84" rx="6" ry="6" transform="rotate(0 520.00 84)" fill="#2a80ff" opacity="0.5" filter="url(#bl2)"/>
<path d="M557.00,64.5 Q565.00,58 573.00,55" stroke="#00d8ff" stroke-width="7" fill="none" filter="url(#bl1)"/>
<g filter="url(#bl05)" transform="rotate(-20 560.50 67.00)"><ellipse cx="560.50" cy="67.00" rx="9.0" ry="7.4" fill="#1080ff"/><ellipse cx="560.50" cy="67.00" rx="7.8" ry="6.3" fill="#00d8ff"/><ellipse cx="560.50" cy="67.00" rx="6.2" ry="4.9" fill="#20ff90"/><ellipse cx="560.50" cy="67.00" rx="4.5" ry="3.5" fill="#d0ff20"/><ellipse cx="560.50" cy="67.00" rx="3.2" ry="2.5" fill="#ffb000"/><ellipse cx="560.50" cy="67.00" rx="2.1" ry="1.6" fill="#ff2000"/></g>
<g filter="url(#bl05)" transform="rotate(-43 575.80 56.00)"><ellipse cx="575.80" cy="56.00" rx="9.0" ry="7.4" fill="#1080ff"/><ellipse cx="575.80" cy="56.00" rx="7.8" ry="6.3" fill="#00d8ff"/><ellipse cx="575.80" cy="56.00" rx="6.2" ry="4.9" fill="#20ff90"/><ellipse cx="575.80" cy="56.00" rx="4.5" ry="3.5" fill="#d0ff20"/><ellipse cx="575.80" cy="56.00" rx="3.2" ry="2.5" fill="#ffb000"/><ellipse cx="575.80" cy="56.00" rx="2.1" ry="1.6" fill="#ff2000"/></g>
<g filter="url(#bl1)" transform="rotate(-43 567.50 61.00)"><ellipse cx="567.50" cy="61.00" rx="3.5" ry="2.5" fill="#30ff90"/></g>
<g filter="url(#bl1)" transform="rotate(-43 586.50 49.00)"><ellipse cx="586.50" cy="49.00" rx="4.0" ry="3.0" fill="#1a90ff"/><ellipse cx="586.50" cy="49.00" rx="2.5" ry="1.8" fill="#00d0ff"/></g>
<g filter="url(#bl1)" transform="rotate(0 536.30 79.50)"><ellipse cx="536.30" cy="79.50" rx="9" ry="8" fill="#1a70ff"/></g>
<g filter="url(#bl2)" transform="rotate(0 598.60 40.00)"><ellipse cx="598.60" cy="40.00" rx="12" ry="11" fill="#1a5cff"/></g>
<g filter="url(#bl05)" transform="rotate(0 598.60 39.00)"><ellipse cx="598.60" cy="39.00" rx="8.2" ry="8.2" fill="#10a0ff"/><ellipse cx="598.60" cy="39.00" rx="7.2" ry="7.2" fill="#10c8ff"/><ellipse cx="598.60" cy="39.00" rx="6.2" ry="6.2" fill="#0a40ff"/></g>
<g filter="url(#bl1)" transform="rotate(0 598.60 33.50)"><ellipse cx="598.60" cy="33.50" rx="8.5" ry="5.5" fill="#1a70ff"/></g>
<g filter="url(#bl1)" transform="rotate(0 595.00 32.00)"><ellipse cx="595.00" cy="32.00" rx="3.4" ry="3.6" fill="#1a90ff"/><ellipse cx="595.00" cy="32.00" rx="2.2" ry="2.4" fill="#20c8ff"/></g>
<g filter="url(#bl1)" transform="rotate(0 602.20 32.00)"><ellipse cx="602.20" cy="32.00" rx="3.4" ry="3.6" fill="#1a90ff"/><ellipse cx="602.20" cy="32.00" rx="2.2" ry="2.4" fill="#20c8ff"/></g>
<line x1="661.10" y1="79.50" x2="643.50" y2="72.70" stroke="#2424b8" stroke-width="2.8"/>
<line x1="643.50" y1="72.70" x2="625.90" y2="65.90" stroke="#eab048" stroke-width="2.8"/>
<line x1="625.90" y1="65.90" x2="612.25" y2="53.45" stroke="#eab048" stroke-width="3.4"/>
<line x1="612.25" y1="53.45" x2="598.60" y2="41.00" stroke="#e81010" stroke-width="3.4"/>
<line x1="536.30" y1="79.50" x2="553.90" y2="72.70" stroke="#2424b8" stroke-width="2.8"/>
<line x1="553.90" y1="72.70" x2="571.50" y2="65.90" stroke="#eab048" stroke-width="2.8"/>
<line x1="571.50" y1="65.90" x2="585.05" y2="53.45" stroke="#eab048" stroke-width="3.4"/>
<line x1="585.05" y1="53.45" x2="598.60" y2="41.00" stroke="#e81010" stroke-width="3.4"/>
<circle cx="661.10" cy="79.50" r="4.60" fill="url(#atN)"/>
<circle cx="625.90" cy="65.90" r="7.00" fill="url(#atCu)"/>
<circle cx="536.30" cy="79.50" r="4.60" fill="url(#atN)"/>
<circle cx="571.50" cy="65.90" r="7.00" fill="url(#atCu)"/>
<circle cx="598.50" cy="41.00" r="5.80" fill="url(#atO)"/>
</g>
<text x="516.90" y="20.00" style="font-family:'Liberation Serif',serif;font-size:9.4px;font-weight:bold;font-style:normal" text-anchor="start" fill="#fff" >CDD</text>
<text x="598.60" y="56.00" style="font-family:'Liberation Serif',serif;font-size:8.6px;font-weight:bold;font-style:normal" text-anchor="middle" fill="#fff" >O</text>
<text x="572.00" y="81.20" style="font-family:'Liberation Serif',serif;font-size:8.6px;font-weight:bold;font-style:normal" text-anchor="middle" fill="#fff" >Cu</text>
<text x="546.40" y="88.40" style="font-family:'Liberation Serif',serif;font-size:8.6px;font-weight:bold;font-style:normal" text-anchor="middle" fill="#fff" >N</text>
<line x1="541.20" y1="53.70" x2="550.02" y2="60.88" stroke="#fff" stroke-width="1.1"/>
<path d="M552.50,62.90 L548.88,62.28 L551.15,59.48 Z" fill="#fff"/>
<line x1="559.60" y1="40.40" x2="568.42" y2="47.58" stroke="#fff" stroke-width="1.1"/>
<path d="M570.90,49.60 L567.28,48.98 L569.55,46.18 Z" fill="#fff"/>
<line x1="632.20" y1="39.40" x2="625.26" y2="46.34" stroke="#fff" stroke-width="1.1"/>
<path d="M623.00,48.60 L623.99,45.06 L626.54,47.61 Z" fill="#fff"/>
<line x1="650.60" y1="53.70" x2="644.53" y2="60.51" stroke="#fff" stroke-width="1.1"/>
<path d="M642.40,62.90 L643.19,59.31 L645.87,61.71 Z" fill="#fff"/>
<rect x="509.6" y="91.8" width="174.69999999999993" height="85.39999999999999" fill="#0000ff"/>
<g clip-path="url(#cELF)">
<ellipse cx="600.7" cy="150" rx="14" ry="14" fill="#1a60ff" filter="url(#bl3)" opacity="0.8"/>
<g filter="url(#bl1)"><rect x="628.20" y="137.0" width="61.80" height="38" rx="10" fill="#1090ff"/><rect x="629.20" y="139.2" width="59.80" height="33.6" rx="9" fill="#00e0ff"/><rect x="630.20" y="141.8" width="57.80" height="28.4" rx="8" fill="#30ff80"/></g>
<g filter="url(#bl05)" transform="rotate(0 680.80 156.30)"><ellipse cx="680.80" cy="156.30" rx="6.2" ry="11.5" fill="#c0ff30"/><ellipse cx="680.80" cy="156.30" rx="4.6" ry="10.2" fill="#ffd800"/><ellipse cx="680.80" cy="156.30" rx="3.2" ry="8.6" fill="#ff9800"/><ellipse cx="680.80" cy="156.30" rx="1.8" ry="6.2" fill="#ff4800"/></g>
<g filter="url(#bl05)" transform="rotate(0 663.70 156.30)"><ellipse cx="663.70" cy="156.30" rx="6.2" ry="11.5" fill="#c0ff30"/><ellipse cx="663.70" cy="156.30" rx="4.6" ry="10.2" fill="#ffd800"/><ellipse cx="663.70" cy="156.30" rx="3.2" ry="8.6" fill="#ff9800"/><ellipse cx="663.70" cy="156.30" rx="1.8" ry="6.2" fill="#ff4800"/></g>
<g filter="url(#bl05)" transform="rotate(0 648.00 156.30)"><ellipse cx="648.00" cy="156.30" rx="6.2" ry="11.5" fill="#c0ff30"/><ellipse cx="648.00" cy="156.30" rx="4.6" ry="10.2" fill="#ffd800"/><ellipse cx="648.00" cy="156.30" rx="3.2" ry="8.6" fill="#ff9800"/><ellipse cx="648.00" cy="156.30" rx="1.8" ry="6.2" fill="#ff4800"/></g>
<g filter="url(#bl05)" transform="rotate(0 636.20 156.30)"><ellipse cx="636.20" cy="156.30" rx="6.2" ry="11.5" fill="#c0ff30"/><ellipse cx="636.20" cy="156.30" rx="4.6" ry="10.2" fill="#ffd800"/><ellipse cx="636.20" cy="156.30" rx="3.2" ry="8.6" fill="#ff9800"/><ellipse cx="636.20" cy="156.30" rx="1.8" ry="6.2" fill="#ff4800"/></g>
<g filter="url(#bl05)"><ellipse cx="672.30" cy="157" rx="3.2" ry="5.2" fill="#00e0ff"/><ellipse cx="672.30" cy="157" rx="1.7" ry="3.0" fill="#0030ff"/></g>
<g filter="url(#bl1)"><rect x="505.00" y="137.0" width="68.50" height="38" rx="10" fill="#1090ff"/><rect x="506.00" y="139.2" width="66.50" height="33.6" rx="9" fill="#00e0ff"/><rect x="507.00" y="141.8" width="64.50" height="28.4" rx="8" fill="#30ff80"/></g>
<g filter="url(#bl05)" transform="rotate(0 520.90 156.30)"><ellipse cx="520.90" cy="156.30" rx="6.2" ry="11.5" fill="#c0ff30"/><ellipse cx="520.90" cy="156.30" rx="4.6" ry="10.2" fill="#ffd800"/><ellipse cx="520.90" cy="156.30" rx="3.2" ry="8.6" fill="#ff9800"/><ellipse cx="520.90" cy="156.30" rx="1.8" ry="6.2" fill="#ff4800"/></g>
<g filter="url(#bl05)" transform="rotate(0 538.00 156.30)"><ellipse cx="538.00" cy="156.30" rx="6.2" ry="11.5" fill="#c0ff30"/><ellipse cx="538.00" cy="156.30" rx="4.6" ry="10.2" fill="#ffd800"/><ellipse cx="538.00" cy="156.30" rx="3.2" ry="8.6" fill="#ff9800"/><ellipse cx="538.00" cy="156.30" rx="1.8" ry="6.2" fill="#ff4800"/></g>
<g filter="url(#bl05)" transform="rotate(0 553.70 156.30)"><ellipse cx="553.70" cy="156.30" rx="6.2" ry="11.5" fill="#c0ff30"/><ellipse cx="553.70" cy="156.30" rx="4.6" ry="10.2" fill="#ffd800"/><ellipse cx="553.70" cy="156.30" rx="3.2" ry="8.6" fill="#ff9800"/><ellipse cx="553.70" cy="156.30" rx="1.8" ry="6.2" fill="#ff4800"/></g>
<g filter="url(#bl05)" transform="rotate(0 565.50 156.30)"><ellipse cx="565.50" cy="156.30" rx="6.2" ry="11.5" fill="#c0ff30"/><ellipse cx="565.50" cy="156.30" rx="4.6" ry="10.2" fill="#ffd800"/><ellipse cx="565.50" cy="156.30" rx="3.2" ry="8.6" fill="#ff9800"/><ellipse cx="565.50" cy="156.30" rx="1.8" ry="6.2" fill="#ff4800"/></g>
<g filter="url(#bl05)"><ellipse cx="529.40" cy="157" rx="3.2" ry="5.2" fill="#00e0ff"/><ellipse cx="529.40" cy="157" rx="1.7" ry="3.0" fill="#0030ff"/></g>
<ellipse cx="601" cy="126" rx="21" ry="19" fill="#2a70ff" filter="url(#bl2)" opacity="0.7"/>
<g filter="url(#bl1)" transform="rotate(0 601.00 128.00)"><ellipse cx="601.00" cy="128.00" rx="17.0" ry="16.0" fill="#1a80ff"/><ellipse cx="601.00" cy="128.00" rx="15.8" ry="14.8" fill="#00d8ff"/><ellipse cx="601.00" cy="128.00" rx="14.2" ry="13.4" fill="#20ff90"/><ellipse cx="601.00" cy="128.00" rx="12.0" ry="11.6" fill="#90ff40"/><ellipse cx="601.00" cy="128.00" rx="9.8" ry="9.5" fill="#ffe000"/><ellipse cx="601.00" cy="128.00" rx="7.9" ry="7.7" fill="#ffa000"/><ellipse cx="601.00" cy="128.00" rx="6.6" ry="6.4" fill="#ff4000"/></g>
<ellipse cx="601" cy="149" rx="12" ry="8" fill="#1a5aff" filter="url(#bl2)"/>
<g filter="url(#bl1)" transform="rotate(0 600.00 111.50)"><ellipse cx="600.00" cy="111.50" rx="3" ry="1.6" fill="#30c0ff"/></g>
<line x1="640.10" y1="156.00" x2="628.75" y2="151.45" stroke="#2424c0" stroke-width="2.8"/>
<line x1="628.75" y1="151.45" x2="617.40" y2="146.90" stroke="#eab048" stroke-width="2.8"/>
<line x1="617.40" y1="146.90" x2="609.30" y2="138.75" stroke="#eab048" stroke-width="2.8"/>
<line x1="609.30" y1="138.75" x2="601.20" y2="130.60" stroke="#e81010" stroke-width="2.8"/>
<line x1="561.60" y1="156.00" x2="572.95" y2="151.45" stroke="#2424c0" stroke-width="2.8"/>
<line x1="572.95" y1="151.45" x2="584.30" y2="146.90" stroke="#eab048" stroke-width="2.8"/>
<line x1="584.30" y1="146.90" x2="592.75" y2="138.75" stroke="#eab048" stroke-width="2.8"/>
<line x1="592.75" y1="138.75" x2="601.20" y2="130.60" stroke="#e81010" stroke-width="2.8"/>
<circle cx="640.10" cy="156.00" r="4.80" fill="url(#atN)"/>
<circle cx="617.40" cy="146.90" r="6.60" fill="url(#atCu)"/>
<circle cx="561.60" cy="156.00" r="4.80" fill="url(#atN)"/>
<circle cx="584.30" cy="146.90" r="6.60" fill="url(#atCu)"/>
<circle cx="601.20" cy="130.60" r="5.90" fill="url(#atO)"/>
</g>
<text x="517.50" y="104.30" style="font-family:'Liberation Serif',serif;font-size:9.4px;font-weight:bold;font-style:normal" text-anchor="start" fill="#fff" >ELF</text>
<text x="627.00" y="111.60" style="font-family:'Liberation Serif',serif;font-size:9.0px;font-weight:bold;font-style:normal" text-anchor="start" fill="#fff" >Electron</text>
<text x="627.00" y="122.30" style="font-family:'Liberation Serif',serif;font-size:9.0px;font-weight:bold;font-style:normal" text-anchor="start" fill="#fff" >deficiency</text>
<line x1="564.80" y1="125.80" x2="573.82" y2="133.87" stroke="#fff" stroke-width="1.1"/>
<path d="M576.20,136.00 L572.61,135.21 L575.02,132.52 Z" fill="#fff"/>
<line x1="635.00" y1="126.60" x2="627.09" y2="134.36" stroke="#fff" stroke-width="1.1"/>
<path d="M624.80,136.60 L625.82,133.07 L628.35,135.65 Z" fill="#fff"/>
<rect x="509.6" y="6.5" width="174.69999999999993" height="170.7" fill="none" stroke="#111" stroke-width="1"/>
<line x1="509.60" y1="91.80" x2="684.30" y2="91.80" stroke="#111" stroke-width="1.2" />
<text x="595.20" y="197.40" style="font-family:'Liberation Serif',serif;font-size:9.4px;font-weight:bold;font-style:normal" text-anchor="middle" fill="#000" >Cu ICPs</text>
<text x="-0.30" y="232.60" style="font-family:'Liberation Sans',sans-serif;font-size:14.5px;font-weight:normal;font-style:normal" text-anchor="start" fill="#000" >d</text>
<rect x="16.4" y="225.6" width="108.1" height="97.79999999999998" fill="#0404fa"/>
<rect x="128.0" y="225.6" width="108.19999999999999" height="97.79999999999998" fill="#0404fa"/>
<g clip-path="url(#dclip0)">
<ellipse cx="105.60" cy="300.00" rx="9" ry="12" transform="rotate(0 105.60 300.00)" fill="#2a80ff" opacity="0.45" filter="url(#bl2)"/>
<ellipse cx="95.60" cy="280.00" rx="6" ry="10" transform="rotate(30 95.60 280.00)" fill="#2a80ff" opacity="0.35" filter="url(#bl2)"/>
<ellipse cx="109.60" cy="262.00" rx="8" ry="6" transform="rotate(0 109.60 262.00)" fill="#2a80ff" opacity="0.3" filter="url(#bl2)"/>
<ellipse cx="23.60" cy="305.00" rx="8" ry="12" transform="rotate(0 23.60 305.00)" fill="#2a80ff" opacity="0.3" filter="url(#bl2)"/>
<g filter="url(#bl1)" transform="rotate(0 83.40 267.50)"><ellipse cx="83.40" cy="267.50" rx="11" ry="10" fill="#1080ff"/><ellipse cx="83.40" cy="267.50" rx="9.5" ry="8.8" fill="#00d0ff"/><ellipse cx="83.40" cy="267.50" rx="7.5" ry="7.2" fill="#20f0a0"/><ellipse cx="83.40" cy="267.50" rx="5.5" ry="5.5" fill="#40ff80"/><ellipse cx="83.40" cy="267.50" rx="3" ry="3" fill="#90ff60"/></g>
<ellipse cx="88.60" cy="290.00" rx="6" ry="10" transform="rotate(-20 88.60 290.00)" fill="#2a80ff" opacity="0.5" filter="url(#bl2)"/>
<g filter="url(#bl1)" transform="rotate(0 101.10 297.50)"><ellipse cx="101.10" cy="297.50" rx="4.5" ry="6.5" fill="#1a70ff"/><ellipse cx="101.10" cy="297.50" rx="3.0" ry="4.5" fill="#1a9aff"/><ellipse cx="101.10" cy="297.50" rx="1.5" ry="2.5" fill="#30c0ff"/></g>
<g filter="url(#bl1)" transform="rotate(0 112.60 300.00)"><ellipse cx="112.60" cy="300.00" rx="3.5" ry="5.5" fill="#1a70ff"/><ellipse cx="112.60" cy="300.00" rx="2.0" ry="3.5" fill="#1a90ff"/></g>
<g filter="url(#bl1)" transform="rotate(-30 96.60 286.00)"><ellipse cx="96.60" cy="286.00" rx="6" ry="3" fill="#1a60ff"/></g>
<g filter="url(#bl1)" transform="rotate(0 79.60 295.00)"><ellipse cx="79.60" cy="295.00" rx="3" ry="4" fill="#10b0ff"/></g>
<ellipse cx="30.00" cy="300.00" rx="9" ry="12" transform="rotate(0 30.00 300.00)" fill="#2a80ff" opacity="0.45" filter="url(#bl2)"/>
<ellipse cx="40.00" cy="280.00" rx="6" ry="10" transform="rotate(30 40.00 280.00)" fill="#2a80ff" opacity="0.35" filter="url(#bl2)"/>
<ellipse cx="26.00" cy="262.00" rx="8" ry="6" transform="rotate(0 26.00 262.00)" fill="#2a80ff" opacity="0.3" filter="url(#bl2)"/>
<ellipse cx="112.00" cy="305.00" rx="8" ry="12" transform="rotate(0 112.00 305.00)" fill="#2a80ff" opacity="0.3" filter="url(#bl2)"/>
<g filter="url(#bl1)" transform="rotate(0 52.20 267.50)"><ellipse cx="52.20" cy="267.50" rx="11" ry="10" fill="#1080ff"/><ellipse cx="52.20" cy="267.50" rx="9.5" ry="8.8" fill="#00d0ff"/><ellipse cx="52.20" cy="267.50" rx="7.5" ry="7.2" fill="#20f0a0"/><ellipse cx="52.20" cy="267.50" rx="5.5" ry="5.5" fill="#40ff80"/><ellipse cx="52.20" cy="267.50" rx="3" ry="3" fill="#90ff60"/></g>
<ellipse cx="47.00" cy="290.00" rx="6" ry="10" transform="rotate(-20 47.00 290.00)" fill="#2a80ff" opacity="0.5" filter="url(#bl2)"/>
<g filter="url(#bl1)" transform="rotate(0 34.50 297.50)"><ellipse cx="34.50" cy="297.50" rx="4.5" ry="6.5" fill="#1a70ff"/><ellipse cx="34.50" cy="297.50" rx="3.0" ry="4.5" fill="#1a9aff"/><ellipse cx="34.50" cy="297.50" rx="1.5" ry="2.5" fill="#30c0ff"/></g>
<g filter="url(#bl1)" transform="rotate(0 23.00 300.00)"><ellipse cx="23.00" cy="300.00" rx="3.5" ry="5.5" fill="#1a70ff"/><ellipse cx="23.00" cy="300.00" rx="2.0" ry="3.5" fill="#1a90ff"/></g>
<g filter="url(#bl1)" transform="rotate(30 39.00 286.00)"><ellipse cx="39.00" cy="286.00" rx="6" ry="3" fill="#1a60ff"/></g>
<g filter="url(#bl1)" transform="rotate(0 56.00 295.00)"><ellipse cx="56.00" cy="295.00" rx="3" ry="4" fill="#10b0ff"/></g>
<ellipse cx="67.80" cy="240.00" rx="16" ry="7" transform="rotate(0 67.80 240.00)" fill="#2a80ff" opacity="0.35" filter="url(#bl2)"/>
<g filter="url(#bl1)"><ellipse cx="68.5" cy="294.7" rx="17" ry="8.2" transform="rotate(45 68.5 294.7)" fill="#10a0ff"/><ellipse cx="68.5" cy="294.7" rx="17" ry="8.2" transform="rotate(-45 68.5 294.7)" fill="#10a0ff"/><ellipse cx="68.5" cy="294.7" rx="15.5" ry="7" transform="rotate(45 68.5 294.7)" fill="#00e0ff"/><ellipse cx="68.5" cy="294.7" rx="15.5" ry="7" transform="rotate(-45 68.5 294.7)" fill="#00e0ff"/><ellipse cx="68.5" cy="294.7" rx="14" ry="5.8" transform="rotate(45 68.5 294.7)" fill="#20ff90"/><ellipse cx="68.5" cy="294.7" rx="14" ry="5.8" transform="rotate(-45 68.5 294.7)" fill="#20ff90"/><ellipse cx="68.5" cy="294.7" rx="7" ry="7" fill="#20ff90"/><ellipse cx="68.0" cy="307.7" rx="3" ry="2.5" fill="#00d8ff"/></g>
<g filter="url(#bl05)" transform="rotate(45 62.20 288.30)"><ellipse cx="62.20" cy="288.30" rx="5.4" ry="4.4" fill="#d8ff20"/><ellipse cx="62.20" cy="288.30" rx="4.6" ry="3.6" fill="#ffd000"/><ellipse cx="62.20" cy="288.30" rx="3.6" ry="2.7" fill="#ff6a00"/><ellipse cx="62.20" cy="288.30" rx="2.6" ry="1.9" fill="#ff0000"/></g>
<g filter="url(#bl05)" transform="rotate(-45 62.20 301.10)"><ellipse cx="62.20" cy="301.10" rx="5.4" ry="4.4" fill="#d8ff20"/><ellipse cx="62.20" cy="301.10" rx="4.6" ry="3.6" fill="#ffd000"/><ellipse cx="62.20" cy="301.10" rx="3.6" ry="2.7" fill="#ff6a00"/><ellipse cx="62.20" cy="301.10" rx="2.6" ry="1.9" fill="#ff0000"/></g>
<g filter="url(#bl05)" transform="rotate(-45 74.80 288.30)"><ellipse cx="74.80" cy="288.30" rx="5.4" ry="4.4" fill="#d8ff20"/><ellipse cx="74.80" cy="288.30" rx="4.6" ry="3.6" fill="#ffd000"/><ellipse cx="74.80" cy="288.30" rx="3.6" ry="2.7" fill="#ff6a00"/><ellipse cx="74.80" cy="288.30" rx="2.6" ry="1.9" fill="#ff0000"/></g>
<g filter="url(#bl05)" transform="rotate(45 74.80 301.10)"><ellipse cx="74.80" cy="301.10" rx="5.4" ry="4.4" fill="#d8ff20"/><ellipse cx="74.80" cy="301.10" rx="4.6" ry="3.6" fill="#ffd000"/><ellipse cx="74.80" cy="301.10" rx="3.6" ry="2.7" fill="#ff6a00"/><ellipse cx="74.80" cy="301.10" rx="2.6" ry="1.9" fill="#ff0000"/></g>
</g>
<line x1="51.80" y1="258.50" x2="64.50" y2="290.50" stroke="#fff" stroke-width="0.9" stroke-dasharray="1.6,1.2"/>
<line x1="84.60" y1="258.50" x2="71.00" y2="290.50" stroke="#fff" stroke-width="0.9" stroke-dasharray="1.6,1.2"/>
<text x="68.40" y="245.00" style="font-family:'Liberation Sans',sans-serif;font-size:7.6px;font-weight:bold;font-style:normal" text-anchor="middle" fill="#fff" >π-bonded</text>
<text x="50.60" y="257.30" style="font-family:'Liberation Sans',sans-serif;font-size:8.2px;font-weight:bold;font-style:normal" text-anchor="middle" fill="#fff" >C</text>
<text x="86.20" y="257.30" style="font-family:'Liberation Sans',sans-serif;font-size:8.2px;font-weight:bold;font-style:normal" text-anchor="middle" fill="#fff" >C</text>
<text x="67.80" y="297.80" style="font-family:'Liberation Sans',sans-serif;font-size:8.2px;font-weight:bold;font-style:normal" text-anchor="middle" fill="#fff" >Cu</text>
<text x="70.60" y="317.90" style="font-family:'Liberation Serif',serif;font-size:8.8px;font-weight:normal;font-style:normal" text-anchor="middle" fill="#fff" >0.85 |e|</text>
<line x1="65.40" y1="248.50" x2="61.23" y2="256.16" stroke="#fff" stroke-width="1.0"/>
<path d="M59.80,258.80 L59.74,255.35 L62.73,256.98 Z" fill="#fff"/>
<line x1="70.00" y1="248.50" x2="76.85" y2="256.52" stroke="#fff" stroke-width="1.0"/>
<path d="M78.80,258.80 L75.56,257.62 L78.14,255.41 Z" fill="#fff"/>
<g clip-path="url(#dclip1)">
<ellipse cx="181.30" cy="268.00" rx="5.5" ry="17" transform="rotate(0 181.30 268.00)" fill="#3a90ff" opacity="0.85" filter="url(#bl2)"/>
<ellipse cx="181.30" cy="248.00" rx="10" ry="8" transform="rotate(0 181.30 248.00)" fill="#2a70ff" opacity="0.5" filter="url(#bl2)"/>
<ellipse cx="181.30" cy="240.00" rx="8" ry="7" transform="rotate(0 181.30 240.00)" fill="#2a70ff" opacity="0.5" filter="url(#bl2)"/>
<ellipse cx="181.30" cy="298.00" rx="8" ry="10" transform="rotate(0 181.30 298.00)" fill="#2a70ff" opacity="0.35" filter="url(#bl2)"/>
<g filter="url(#bl1)" transform="rotate(-45 200.60 250.50)"><ellipse cx="200.60" cy="250.50" rx="7" ry="3.2" fill="#1080ff"/><ellipse cx="200.60" cy="250.50" rx="5.5" ry="2.2" fill="#00d8ff"/></g>
<g filter="url(#bl1)" transform="rotate(-45 209.60 238.50)"><ellipse cx="209.60" cy="238.50" rx="10.5" ry="9" fill="#1080ff"/><ellipse cx="209.60" cy="238.50" rx="9" ry="7.6" fill="#00d8ff"/><ellipse cx="209.60" cy="238.50" rx="7" ry="5.8" fill="#20ff90"/><ellipse cx="209.60" cy="238.50" rx="4" ry="3.5" fill="#60ff70"/></g>
<g filter="url(#bl1)" transform="rotate(0 208.10 259.50)"><ellipse cx="208.10" cy="259.50" rx="4.50" ry="3.20" fill="#1070ff"/><ellipse cx="208.10" cy="259.50" rx="3.14" ry="2.23" fill="#00d8ff"/><ellipse cx="208.10" cy="259.50" rx="1.77" ry="1.26" fill="#20ff90"/></g>
<g filter="url(#bl1)" transform="rotate(0 216.60 300.00)"><ellipse cx="216.60" cy="300.00" rx="8" ry="16" fill="#1080ff"/><ellipse cx="216.60" cy="300.00" rx="6.5" ry="14" fill="#00d8ff"/><ellipse cx="216.60" cy="300.00" rx="4.8" ry="11" fill="#20ff90"/></g>
<g filter="url(#bl1)" transform="rotate(38 202.60 272.00)"><ellipse cx="202.60" cy="272.00" rx="19" ry="11.5" fill="#1080ff"/><ellipse cx="202.60" cy="272.00" rx="17.5" ry="10.3" fill="#00d8ff"/><ellipse cx="202.60" cy="272.00" rx="15.5" ry="8.8" fill="#20ff90"/><ellipse cx="202.60" cy="272.00" rx="13" ry="7.2" fill="#c8ff20"/><ellipse cx="202.60" cy="272.00" rx="10.5" ry="5.8" fill="#ffd000"/><ellipse cx="202.60" cy="272.00" rx="8.5" ry="4.6" fill="#ff8000"/><ellipse cx="202.60" cy="272.00" rx="6.5" ry="3.4" fill="#ff2000"/></g>
<g filter="url(#bl05)" transform="rotate(0 215.80 293.60)"><ellipse cx="215.80" cy="293.60" rx="9" ry="9.5" fill="#1080ff"/><ellipse cx="215.80" cy="293.60" rx="8" ry="8.5" fill="#00d8ff"/><ellipse cx="215.80" cy="293.60" rx="6.8" ry="7.3" fill="#20ff90"/><ellipse cx="215.80" cy="293.60" rx="5.5" ry="6" fill="#c8ff20"/><ellipse cx="215.80" cy="293.60" rx="4.5" ry="5" fill="#ffd000"/><ellipse cx="215.80" cy="293.60" rx="3.6" ry="4" fill="#ff8000"/><ellipse cx="215.80" cy="293.60" rx="2.8" ry="3.2" fill="#ff2000"/></g>
<g filter="url(#bl05)" transform="rotate(0 218.60 309.60)"><ellipse cx="218.60" cy="309.60" rx="8" ry="8" fill="#1080ff"/><ellipse cx="218.60" cy="309.60" rx="7" ry="7" fill="#00d8ff"/><ellipse cx="218.60" cy="309.60" rx="5.8" ry="5.8" fill="#20ff90"/><ellipse cx="218.60" cy="309.60" rx="4.2" ry="4.2" fill="#c8ff20"/><ellipse cx="218.60" cy="309.60" rx="3" ry="3" fill="#ffd000"/><ellipse cx="218.60" cy="309.60" rx="1.8" ry="1.8" fill="#ff6000"/></g>
<ellipse cx="212.60" cy="318.00" rx="6" ry="4" transform="rotate(0 212.60 318.00)" fill="#2a80ff" opacity="0.4" filter="url(#bl2)"/>
<g filter="url(#bl1)" transform="rotate(45 162.00 250.50)"><ellipse cx="162.00" cy="250.50" rx="7" ry="3.2" fill="#1080ff"/><ellipse cx="162.00" cy="250.50" rx="5.5" ry="2.2" fill="#00d8ff"/></g>
<g filter="url(#bl1)" transform="rotate(45 153.00 238.50)"><ellipse cx="153.00" cy="238.50" rx="10.5" ry="9" fill="#1080ff"/><ellipse cx="153.00" cy="238.50" rx="9" ry="7.6" fill="#00d8ff"/><ellipse cx="153.00" cy="238.50" rx="7" ry="5.8" fill="#20ff90"/><ellipse cx="153.00" cy="238.50" rx="4" ry="3.5" fill="#60ff70"/></g>
<g filter="url(#bl1)" transform="rotate(0 154.50 259.50)"><ellipse cx="154.50" cy="259.50" rx="4.50" ry="3.20" fill="#1070ff"/><ellipse cx="154.50" cy="259.50" rx="3.14" ry="2.23" fill="#00d8ff"/><ellipse cx="154.50" cy="259.50" rx="1.77" ry="1.26" fill="#20ff90"/></g>
<g filter="url(#bl1)" transform="rotate(0 146.00 300.00)"><ellipse cx="146.00" cy="300.00" rx="8" ry="16" fill="#1080ff"/><ellipse cx="146.00" cy="300.00" rx="6.5" ry="14" fill="#00d8ff"/><ellipse cx="146.00" cy="300.00" rx="4.8" ry="11" fill="#20ff90"/></g>
<g filter="url(#bl1)" transform="rotate(-38 160.00 272.00)"><ellipse cx="160.00" cy="272.00" rx="19" ry="11.5" fill="#1080ff"/><ellipse cx="160.00" cy="272.00" rx="17.5" ry="10.3" fill="#00d8ff"/><ellipse cx="160.00" cy="272.00" rx="15.5" ry="8.8" fill="#20ff90"/><ellipse cx="160.00" cy="272.00" rx="13" ry="7.2" fill="#c8ff20"/><ellipse cx="160.00" cy="272.00" rx="10.5" ry="5.8" fill="#ffd000"/><ellipse cx="160.00" cy="272.00" rx="8.5" ry="4.6" fill="#ff8000"/><ellipse cx="160.00" cy="272.00" rx="6.5" ry="3.4" fill="#ff2000"/></g>
<g filter="url(#bl05)" transform="rotate(0 146.80 293.60)"><ellipse cx="146.80" cy="293.60" rx="9" ry="9.5" fill="#1080ff"/><ellipse cx="146.80" cy="293.60" rx="8" ry="8.5" fill="#00d8ff"/><ellipse cx="146.80" cy="293.60" rx="6.8" ry="7.3" fill="#20ff90"/><ellipse cx="146.80" cy="293.60" rx="5.5" ry="6" fill="#c8ff20"/><ellipse cx="146.80" cy="293.60" rx="4.5" ry="5" fill="#ffd000"/><ellipse cx="146.80" cy="293.60" rx="3.6" ry="4" fill="#ff8000"/><ellipse cx="146.80" cy="293.60" rx="2.8" ry="3.2" fill="#ff2000"/></g>
<g filter="url(#bl05)" transform="rotate(0 144.00 309.60)"><ellipse cx="144.00" cy="309.60" rx="8" ry="8" fill="#1080ff"/><ellipse cx="144.00" cy="309.60" rx="7" ry="7" fill="#00d8ff"/><ellipse cx="144.00" cy="309.60" rx="5.8" ry="5.8" fill="#20ff90"/><ellipse cx="144.00" cy="309.60" rx="4.2" ry="4.2" fill="#c8ff20"/><ellipse cx="144.00" cy="309.60" rx="3" ry="3" fill="#ffd000"/><ellipse cx="144.00" cy="309.60" rx="1.8" ry="1.8" fill="#ff6000"/></g>
<ellipse cx="150.00" cy="318.00" rx="6" ry="4" transform="rotate(0 150.00 318.00)" fill="#2a80ff" opacity="0.4" filter="url(#bl2)"/>
</g>
<line x1="166.20" y1="262.00" x2="152.50" y2="283.00" stroke="#fff" stroke-width="0.9" stroke-dasharray="1.6,1.2"/>
<line x1="194.20" y1="262.00" x2="210.00" y2="283.00" stroke="#fff" stroke-width="0.9" stroke-dasharray="1.6,1.2"/>
<text x="166.50" y="262.20" style="font-family:'Liberation Sans',sans-serif;font-size:8.2px;font-weight:bold;font-style:normal" text-anchor="middle" fill="#fff" >C</text>
<text x="193.90" y="262.20" style="font-family:'Liberation Sans',sans-serif;font-size:8.2px;font-weight:bold;font-style:normal" text-anchor="middle" fill="#fff" >C</text>
<text x="151.50" y="289.60" style="font-family:'Liberation Sans',sans-serif;font-size:8.2px;font-weight:bold;font-style:normal" text-anchor="middle" fill="#fff" >Cu</text>
<text x="210.30" y="289.60" style="font-family:'Liberation Sans',sans-serif;font-size:8.2px;font-weight:bold;font-style:normal" text-anchor="middle" fill="#fff" >Cu</text>
<text x="217.10" y="253.30" style="font-family:'Liberation Sans',sans-serif;font-size:7.6px;font-weight:bold;font-style:normal" text-anchor="middle" fill="#fff" >σ-donate</text>
<text x="181.50" y="317.90" style="font-family:'Liberation Serif',serif;font-size:8.8px;font-weight:normal;font-style:normal" text-anchor="middle" fill="#fff" >0.96 |e|</text>
<line x1="141.30" y1="256.00" x2="147.52" y2="263.05" stroke="#fff" stroke-width="1.0"/>
<path d="M149.50,265.30 L146.24,264.17 L148.79,261.93 Z" fill="#fff"/>
<line x1="222.60" y1="258.70" x2="216.46" y2="265.22" stroke="#fff" stroke-width="1.0"/>
<path d="M214.40,267.40 L215.22,264.05 L217.69,266.38 Z" fill="#fff"/>
<ellipse cx="101.90" cy="384.50" rx="11.5" ry="13" transform="rotate(0 101.90 384.50)" fill="url(#yel)" opacity="1" />
<ellipse cx="94.40" cy="379.50" rx="5" ry="5" transform="rotate(0 94.40 379.50)" fill="#cccc48" opacity="0.6" />
<ellipse cx="23.50" cy="384.50" rx="11.5" ry="13" transform="rotate(0 23.50 384.50)" fill="url(#yel)" opacity="1" />
<ellipse cx="31.00" cy="379.50" rx="5" ry="5" transform="rotate(0 31.00 379.50)" fill="#cccc48" opacity="0.6" />
<ellipse cx="62.70" cy="388.50" rx="12.5" ry="11.5" transform="rotate(0 62.70 388.50)" fill="url(#yel)" opacity="1" />
<ellipse cx="62.70" cy="385.50" rx="8.5" ry="6.5" transform="rotate(0 62.70 385.50)" fill="#90d070" opacity="0.9" />
<ellipse cx="62.70" cy="384.00" rx="4.5" ry="3.5" transform="rotate(0 62.70 384.00)" fill="#48c0b8" opacity="0.9" />
<path d="M27,364 C25,353 33,349 42,351 C50,352 56,357 62.7,357 C69.5,357 75.5,352 83.5,351 C92.5,349 100.5,353 98.5,364 C97,374 88,378 78,376.5 C72,375 68,372 62.7,372 C57.5,372 53,375 47,376.5 C37,378 28.5,374 27,364 Z" fill="url(#cya)"/>
<ellipse cx="62.70" cy="363.00" rx="18" ry="9" transform="rotate(0 62.70 363.00)" fill="#2ea8b0" opacity="0.6" />
<ellipse cx="62.70" cy="358.50" rx="10" ry="4" transform="rotate(0 62.70 358.50)" fill="#70c890" opacity="0.6" />
<ellipse cx="83.90" cy="343.00" rx="13.0" ry="8.2" transform="rotate(-24 83.90 343.00)" fill="url(#yel)" opacity="1" />
<ellipse cx="41.50" cy="343.00" rx="13.0" ry="8.2" transform="rotate(24 41.50 343.00)" fill="url(#yel)" opacity="1" />
<ellipse cx="62.70" cy="339.50" rx="11.0" ry="8.3" transform="rotate(0 62.70 339.50)" fill="url(#cya)" opacity="1" />
<ellipse cx="62.70" cy="351.80" rx="9.5" ry="5.0" transform="rotate(0 62.70 351.80)" fill="#b4dc70" opacity="1" />
<line x1="85.90" y1="341.5" x2="72.60" y2="352.5" stroke="#e8e0b0" stroke-width="1.4"/>
<circle cx="85.90" cy="341.5" r="1.7" fill="url(#pat)"/>
<circle cx="72.60" cy="352.5" r="3.0" fill="url(#gat)"/>
<line x1="39.50" y1="341.5" x2="52.80" y2="352.5" stroke="#e8e0b0" stroke-width="1.4"/>
<circle cx="39.50" cy="341.5" r="1.7" fill="url(#pat)"/>
<circle cx="52.80" cy="352.5" r="3.0" fill="url(#gat)"/>
<path d="M10.5,383 L114,383 L114,387.5 L10.5,387.5 Z" fill="#40c0c8" opacity="0.75"/>
<line x1="10.5" y1="385.2" x2="114" y2="385.2" stroke="#b8b8c8" stroke-width="2.2"/>
<circle cx="14.5" cy="385.2" r="3.2" fill="url(#gat)"/>
<circle cx="20.5" cy="385.2" r="3.2" fill="url(#gat)"/>
<circle cx="29.1" cy="385.2" r="3.2" fill="url(#pat)"/>
<circle cx="36.5" cy="385.2" r="3.2" fill="url(#gat)"/>
<circle cx="44.1" cy="385.2" r="3.2" fill="url(#gat)"/>
<circle cx="47.6" cy="385.2" r="3.2" fill="url(#pat)"/>
<circle cx="54.1" cy="385.2" r="3.2" fill="url(#gat)"/>
<circle cx="63.0" cy="385.2" r="3.2" fill="url(#bat)"/>
<circle cx="71.5" cy="385.2" r="3.2" fill="url(#gat)"/>
<circle cx="78.0" cy="385.2" r="3.2" fill="url(#pat)"/>
<circle cx="81.5" cy="385.2" r="3.2" fill="url(#gat)"/>
<circle cx="89.0" cy="385.2" r="3.2" fill="url(#gat)"/>
<circle cx="96.6" cy="385.2" r="3.2" fill="url(#pat)"/>
<circle cx="104.5" cy="385.2" r="3.2" fill="url(#gat)"/>
<circle cx="110.5" cy="385.2" r="3.2" fill="url(#gat)"/>
<text x="63.40" y="366.30" style="font-family:'Liberation Sans',sans-serif;font-size:7.6px;font-weight:bold;font-style:normal" text-anchor="middle" fill="#e81818" >π-bonded</text>
<line x1="20.80" y1="344.20" x2="27.72" y2="351.66" stroke="#ee1c1c" stroke-width="1.1"/>
<path d="M29.90,354.00 L26.40,352.88 L29.04,350.43 Z" fill="#ee1c1c"/>
<line x1="102.80" y1="346.50" x2="97.59" y2="353.09" stroke="#ee1c1c" stroke-width="1.1"/>
<path d="M95.60,355.60 L96.17,351.97 L99.00,354.21 Z" fill="#ee1c1c"/>
<text x="67.3" y="418.2" text-anchor="middle" style="font-family:'Liberation Serif',serif;font-size:8.8px;font-weight:bold">CuN<tspan font-size="6" dy="1.8">4</tspan><tspan dy="-1.8"> SAs</tspan></text>
<circle cx="121.0" cy="392.3" r="3.6" fill="url(#gat)"/>
<circle cx="130.3" cy="392.3" r="3.6" fill="url(#gat)"/>
<circle cx="139.6" cy="392.3" r="3.6" fill="url(#gat)"/>
<circle cx="148.9" cy="392.3" r="3.6" fill="url(#gat)"/>
<circle cx="158.2" cy="392.3" r="3.6" fill="url(#gat)"/>
<circle cx="167.5" cy="392.3" r="3.6" fill="url(#gat)"/>
<circle cx="176.8" cy="392.3" r="3.6" fill="url(#gat)"/>
<circle cx="186.1" cy="392.3" r="3.6" fill="url(#gat)"/>
<circle cx="195.4" cy="392.3" r="3.6" fill="url(#gat)"/>
<circle cx="204.7" cy="392.3" r="3.6" fill="url(#gat)"/>
<circle cx="214.0" cy="392.3" r="3.6" fill="url(#gat)"/>
<circle cx="223.3" cy="392.3" r="3.6" fill="url(#gat)"/>
<circle cx="232.6" cy="392.3" r="3.6" fill="url(#gat)"/>
<circle cx="241.9" cy="392.3" r="3.6" fill="url(#gat)"/>
<ellipse cx="213.70" cy="375.70" rx="5" ry="5" transform="rotate(0 213.70 375.70)" fill="url(#yel)" opacity="1" />
<ellipse cx="211.90" cy="383.00" rx="6.5" ry="5" transform="rotate(0 211.90 383.00)" fill="#48c4cc" opacity="0.95" />
<ellipse cx="218.30" cy="383.00" rx="5" ry="4.5" transform="rotate(0 218.30 383.00)" fill="url(#yel)" opacity="1" />
<ellipse cx="223.80" cy="386.70" rx="5.5" ry="4.5" transform="rotate(0 223.80 386.70)" fill="url(#yel)" opacity="1" />
<ellipse cx="216.50" cy="387.50" rx="6.5" ry="3.5" transform="rotate(0 216.50 387.50)" fill="#48c4cc" opacity="0.95" />
<path d="M210.00,371 L221.00,390" stroke="#d09040" stroke-width="1.6"/>
<ellipse cx="148.30" cy="375.70" rx="5" ry="5" transform="rotate(0 148.30 375.70)" fill="url(#yel)" opacity="1" />
<ellipse cx="150.10" cy="383.00" rx="6.5" ry="5" transform="rotate(0 150.10 383.00)" fill="#48c4cc" opacity="0.95" />
<ellipse cx="143.70" cy="383.00" rx="5" ry="4.5" transform="rotate(0 143.70 383.00)" fill="url(#yel)" opacity="1" />
<ellipse cx="138.20" cy="386.70" rx="5.5" ry="4.5" transform="rotate(0 138.20 386.70)" fill="url(#yel)" opacity="1" />
<ellipse cx="145.50" cy="387.50" rx="6.5" ry="3.5" transform="rotate(0 145.50 387.50)" fill="#48c4cc" opacity="0.95" />
<path d="M152.00,371 L141.00,390" stroke="#d09040" stroke-width="1.6"/>
<ellipse cx="181.00" cy="393.00" rx="7.5" ry="6" transform="rotate(0 181.00 393.00)" fill="url(#yel)" opacity="1" />
<ellipse cx="184.00" cy="389.50" rx="4.5" ry="4" transform="rotate(0 184.00 389.50)" fill="#48c4cc" opacity="1" />
<ellipse cx="200.50" cy="364.70" rx="11.5" ry="9.8" transform="rotate(0 200.50 364.70)" fill="url(#yel)" opacity="1" />
<ellipse cx="161.50" cy="364.70" rx="11.5" ry="9.8" transform="rotate(0 161.50 364.70)" fill="url(#yel)" opacity="1" />
<ellipse cx="181.00" cy="366.80" rx="7.5" ry="11.5" transform="rotate(0 181.00 366.80)" fill="url(#cya)" opacity="1" />
<path d="M151.6,351 C151.6,346 158,345 168.6,345 C170,337 174,333.5 181,333.5 C188,333.5 192,337 193.5,345 C204,345 210.4,346 210.4,351 C210.4,356 202,356 181,356 C160,356 151.6,356 151.6,351 Z" fill="url(#cya)"/>
<ellipse cx="201.80" cy="340.8" rx="10" ry="9.3" fill="url(#yel)" opacity="0.95"/>
<line x1="201.80" y1="337.5" x2="194.00" y2="350" stroke="#e0c070" stroke-width="1.3"/>
<circle cx="201.80" cy="337.5" r="1.8" fill="url(#pat)"/>
<ellipse cx="160.20" cy="340.8" rx="10" ry="9.3" fill="url(#yel)" opacity="0.95"/>
<line x1="160.20" y1="337.5" x2="168.00" y2="350" stroke="#e0c070" stroke-width="1.3"/>
<circle cx="160.20" cy="337.5" r="1.8" fill="url(#pat)"/>
<path d="M118,396.8 L245,395.5" stroke="#555" stroke-width="2.5"/>
<path d="M140,394 L156,394" stroke="#2a3adf" stroke-width="2.6"/>
<path d="M218,393 L236,393" stroke="#2a3adf" stroke-width="2.6"/>
<circle cx="120.8" cy="396.80" r="4.4" fill="url(#gat)"/>
<circle cx="130.7" cy="396.70" r="4.4" fill="url(#gat)"/>
<circle cx="140.6" cy="396.60" r="4.4" fill="url(#gat)"/>
<circle cx="150.5" cy="396.50" r="4.4" fill="url(#gat)"/>
<circle cx="160.4" cy="396.40" r="4.4" fill="url(#gat)"/>
<circle cx="170.3" cy="396.30" r="4.4" fill="url(#gat)"/>
<circle cx="180.2" cy="396.20" r="4.4" fill="url(#gat)"/>
<circle cx="190.1" cy="396.10" r="4.4" fill="url(#gat)"/>
<circle cx="200.0" cy="396.00" r="4.4" fill="url(#gat)"/>
<circle cx="209.9" cy="395.90" r="4.4" fill="url(#gat)"/>
<circle cx="219.8" cy="395.80" r="4.4" fill="url(#gat)"/>
<circle cx="229.7" cy="395.70" r="4.4" fill="url(#gat)"/>
<circle cx="239.6" cy="395.60" r="4.4" fill="url(#gat)"/>
<circle cx="147.3" cy="394" r="2.4" fill="url(#bat)"/>
<circle cx="228.5" cy="391.7" r="2.6" fill="url(#bat)"/>
<path d="M207.50,350.3 C219.00,352 219.00,362 208.50,365.5" fill="none" stroke="#ee1c1c" stroke-width="1.1"/>
<path d="M205.20,367.2 L210.50,366.8 L207.80,362.5 Z" fill="#ee1c1c"/>
<path d="M154.50,350.3 C143.00,352 143.00,362 153.50,365.5" fill="none" stroke="#ee1c1c" stroke-width="1.1"/>
<path d="M156.80,367.2 L151.50,366.8 L154.20,362.5 Z" fill="#ee1c1c"/>
<text x="182.20" y="369.20" style="font-family:'Liberation Sans',sans-serif;font-size:7.9px;font-weight:bold;font-style:normal" text-anchor="middle" fill="#e81818" >σ-donate</text>
<text x="182.20" y="417.60" style="font-family:'Liberation Serif',serif;font-size:8.8px;font-weight:bold;font-style:normal" text-anchor="middle" fill="#000" >Cu ICPs</text>
<text x="260.20" y="232.80" style="font-family:'Liberation Sans',sans-serif;font-size:15px;font-weight:normal;font-style:normal" text-anchor="start" fill="#000" >e</text>
<line x1="284.50" y1="241.45" x2="284.50" y2="415.90" stroke="#000" stroke-width="1.1" />
<line x1="281.20" y1="241.45" x2="284.50" y2="241.45" stroke="#000" stroke-width="1" />
<text x="280.00" y="244.55" style="font-family:'Liberation Serif',serif;font-size:9px;font-weight:normal;font-style:normal" text-anchor="end" fill="#000" >5</text>
<line x1="282.80" y1="270.53" x2="284.50" y2="270.53" stroke="#000" stroke-width="0.9" />
<line x1="281.20" y1="299.60" x2="284.50" y2="299.60" stroke="#000" stroke-width="1" />
<text x="280.00" y="302.70" style="font-family:'Liberation Serif',serif;font-size:9px;font-weight:normal;font-style:normal" text-anchor="end" fill="#000" >0</text>
<line x1="282.80" y1="328.68" x2="284.50" y2="328.68" stroke="#000" stroke-width="0.9" />
<line x1="281.20" y1="357.75" x2="284.50" y2="357.75" stroke="#000" stroke-width="1" />
<text x="280.00" y="360.85" style="font-family:'Liberation Serif',serif;font-size:9px;font-weight:normal;font-style:normal" text-anchor="end" fill="#000" >-5</text>
<line x1="282.80" y1="386.83" x2="284.50" y2="386.83" stroke="#000" stroke-width="0.9" />
<line x1="281.20" y1="415.90" x2="284.50" y2="415.90" stroke="#000" stroke-width="1" />
<text x="280.00" y="419.00" style="font-family:'Liberation Serif',serif;font-size:9px;font-weight:normal;font-style:normal" text-anchor="end" fill="#000" >-10</text>
<text x="263.2" y="335" transform="rotate(-90 263.2 335)" text-anchor="middle" style="font-family:'Liberation Serif',serif;font-size:9.8px;font-weight:bold">Energy (eV)</text>
<line x1="284.50" y1="299.60" x2="488.60" y2="299.60" stroke="#555" stroke-width="0.8" stroke-dasharray="2.6,1.8"/>
<text x="311.60" y="231.00" style="font-family:'Liberation Serif',serif;font-size:8.2px;font-weight:bold;font-style:normal" text-anchor="middle" fill="#000" >Cu ICPs</text>
<text x="391.2" y="231.0" text-anchor="middle" style="font-family:'Liberation Serif',serif;font-size:8.2px;font-weight:bold">Cu ICPs-C<tspan font-size="5.6" dy="1.6">2</tspan><tspan dy="-1.6">H</tspan><tspan font-size="5.6" dy="1.6">2</tspan></text>
<text x="458.1" y="231.0" text-anchor="middle" style="font-family:'Liberation Serif',serif;font-size:8.2px;font-weight:bold">C<tspan font-size="5.6" dy="1.6">2</tspan><tspan dy="-1.6">H</tspan><tspan font-size="5.6" dy="1.6">2</tspan></text>
<text x="303.80" y="247.60" style="font-family:'Liberation Serif',serif;font-size:9.6px;font-weight:bold;font-style:normal" text-anchor="middle" fill="#000" >α</text>
<text x="322.30" y="247.60" style="font-family:'Liberation Serif',serif;font-size:9.6px;font-weight:bold;font-style:normal" text-anchor="middle" fill="#000" >β</text>
<text x="387.60" y="247.60" style="font-family:'Liberation Serif',serif;font-size:9.6px;font-weight:bold;font-style:normal" text-anchor="middle" fill="#000" >α</text>
<text x="405.50" y="247.60" style="font-family:'Liberation Serif',serif;font-size:9.6px;font-weight:bold;font-style:normal" text-anchor="middle" fill="#000" >β</text>
<text x="455.00" y="247.60" style="font-family:'Liberation Serif',serif;font-size:9.6px;font-weight:bold;font-style:normal" text-anchor="middle" fill="#000" >α</text>
<text x="472.90" y="247.60" style="font-family:'Liberation Serif',serif;font-size:9.6px;font-weight:bold;font-style:normal" text-anchor="middle" fill="#000" >β</text>
<path d="M312.40,286.00 C312.40,288.27 312.20,296.97 312.40,299.60 C312.60,302.23 312.42,300.93 313.60,301.80 C314.78,302.67 317.92,303.72 319.50,304.80 C321.08,305.88 323.10,307.42 323.10,308.30 C323.10,309.18 321.08,309.50 319.50,310.10 C317.92,310.70 314.78,311.20 313.60,311.90 C312.42,312.60 312.30,313.40 312.40,314.30 C312.50,315.20 313.60,316.22 314.20,317.30 C314.80,318.38 315.52,319.62 316.00,320.80 C316.48,321.98 316.32,323.30 317.10,324.40 C317.88,325.50 319.10,326.70 320.70,327.40 C322.30,328.10 321.73,328.00 326.70,328.60 C331.67,329.20 350.50,330.42 350.50,331.00 C350.50,331.58 331.47,331.62 326.70,332.10 C321.93,332.58 321.70,333.30 321.90,333.90 C322.10,334.50 326.52,335.10 327.90,335.70 C329.28,336.30 331.00,336.90 330.20,337.50 C329.40,338.10 325.47,338.70 323.10,339.30 C320.73,339.90 316.40,340.32 316.00,341.10 C315.60,341.88 318.82,343.18 320.70,344.00 C322.58,344.82 327.30,345.38 327.30,346.00 C327.30,346.62 322.50,347.02 320.70,347.70 C318.90,348.38 317.00,349.00 316.50,350.10 C316.00,351.20 317.60,353.00 317.70,354.30 C317.80,355.60 317.00,356.72 317.10,357.90 C317.20,359.08 318.48,360.22 318.30,361.40 C318.12,362.58 316.30,363.80 316.00,365.00 C315.70,366.20 316.70,367.42 316.50,368.60 C316.30,369.78 315.28,370.92 314.80,372.10 C314.32,373.28 313.85,373.90 313.60,375.70 C313.35,377.50 313.40,380.52 313.30,382.90 C313.20,385.28 313.08,387.15 313.00,390.00 C312.92,392.85 312.87,395.68 312.80,400.00 C312.73,404.32 312.63,413.25 312.60,415.90 L312.40,415.90 L312.40,286.00 Z" fill="url(#eBlk)" stroke="none"/>
<path d="M312.40,286.00 C312.40,288.27 312.20,296.97 312.40,299.60 C312.60,302.23 312.42,300.93 313.60,301.80 C314.78,302.67 317.92,303.72 319.50,304.80 C321.08,305.88 323.10,307.42 323.10,308.30 C323.10,309.18 321.08,309.50 319.50,310.10 C317.92,310.70 314.78,311.20 313.60,311.90 C312.42,312.60 312.30,313.40 312.40,314.30 C312.50,315.20 313.60,316.22 314.20,317.30 C314.80,318.38 315.52,319.62 316.00,320.80 C316.48,321.98 316.32,323.30 317.10,324.40 C317.88,325.50 319.10,326.70 320.70,327.40 C322.30,328.10 321.73,328.00 326.70,328.60 C331.67,329.20 350.50,330.42 350.50,331.00 C350.50,331.58 331.47,331.62 326.70,332.10 C321.93,332.58 321.70,333.30 321.90,333.90 C322.10,334.50 326.52,335.10 327.90,335.70 C329.28,336.30 331.00,336.90 330.20,337.50 C329.40,338.10 325.47,338.70 323.10,339.30 C320.73,339.90 316.40,340.32 316.00,341.10 C315.60,341.88 318.82,343.18 320.70,344.00 C322.58,344.82 327.30,345.38 327.30,346.00 C327.30,346.62 322.50,347.02 320.70,347.70 C318.90,348.38 317.00,349.00 316.50,350.10 C316.00,351.20 317.60,353.00 317.70,354.30 C317.80,355.60 317.00,356.72 317.10,357.90 C317.20,359.08 318.48,360.22 318.30,361.40 C318.12,362.58 316.30,363.80 316.00,365.00 C315.70,366.20 316.70,367.42 316.50,368.60 C316.30,369.78 315.28,370.92 314.80,372.10 C314.32,373.28 313.85,373.90 313.60,375.70 C313.35,377.50 313.40,380.52 313.30,382.90 C313.20,385.28 313.08,387.15 313.00,390.00 C312.92,392.85 312.87,395.68 312.80,400.00 C312.73,404.32 312.63,413.25 312.60,415.90" fill="none" stroke="#111" stroke-width="1.0" stroke-linejoin="round"/>
<path d="M313.00,242.10 C312.95,249.45 313.60,278.62 312.70,286.20 C311.80,293.78 308.85,287.13 307.60,287.60 C306.35,288.07 305.52,288.52 305.20,289.00 C304.88,289.48 305.53,290.02 305.70,290.50 C305.87,290.98 306.43,291.35 306.20,291.90 C305.97,292.45 304.15,293.25 304.30,293.80 C304.45,294.35 306.07,294.72 307.10,295.20 C308.13,295.68 309.75,296.22 310.50,296.70 C311.25,297.18 311.58,297.55 311.60,298.10 C311.62,298.65 310.77,299.08 310.60,300.00 C310.43,300.92 310.90,302.42 310.60,303.60 C310.30,304.78 309.40,305.92 308.80,307.10 C308.20,308.28 307.40,309.70 307.00,310.70 C306.60,311.70 307.08,312.30 306.40,313.10 C305.72,313.90 304.68,314.80 302.90,315.50 C301.12,316.20 297.88,316.52 295.70,317.30 C293.52,318.08 289.80,319.42 289.80,320.20 C289.80,320.98 293.72,321.50 295.70,322.00 C297.68,322.50 301.90,322.60 301.70,323.20 C301.50,323.80 294.50,324.80 294.50,325.60 C294.50,326.40 301.10,327.20 301.70,328.00 C302.30,328.80 297.90,329.62 298.10,330.40 C298.30,331.18 301.92,331.82 302.90,332.70 C303.88,333.58 303.42,334.60 304.00,335.70 C304.58,336.80 305.90,338.50 306.40,339.30 C306.90,340.10 307.20,339.78 307.00,340.50 C306.80,341.22 305.10,342.30 305.20,343.60 C305.30,344.90 307.30,346.92 307.60,348.30 C307.90,349.68 306.80,350.50 307.00,351.90 C307.20,353.30 308.20,355.12 308.80,356.70 C309.40,358.28 310.20,359.22 310.60,361.40 C311.00,363.58 310.90,366.82 311.20,369.80 C311.50,372.78 312.17,375.93 312.40,379.30 C312.63,382.67 312.58,383.90 312.60,390.00 C312.62,396.10 312.52,411.58 312.50,415.90 L312.40,415.90 L312.40,242.10 Z" fill="url(#eRed)" stroke="none"/>
<path d="M313.00,242.10 C312.95,249.45 313.60,278.62 312.70,286.20 C311.80,293.78 308.85,287.13 307.60,287.60 C306.35,288.07 305.52,288.52 305.20,289.00 C304.88,289.48 305.53,290.02 305.70,290.50 C305.87,290.98 306.43,291.35 306.20,291.90 C305.97,292.45 304.15,293.25 304.30,293.80 C304.45,294.35 306.07,294.72 307.10,295.20 C308.13,295.68 309.75,296.22 310.50,296.70 C311.25,297.18 311.58,297.55 311.60,298.10 C311.62,298.65 310.77,299.08 310.60,300.00 C310.43,300.92 310.90,302.42 310.60,303.60 C310.30,304.78 309.40,305.92 308.80,307.10 C308.20,308.28 307.40,309.70 307.00,310.70 C306.60,311.70 307.08,312.30 306.40,313.10 C305.72,313.90 304.68,314.80 302.90,315.50 C301.12,316.20 297.88,316.52 295.70,317.30 C293.52,318.08 289.80,319.42 289.80,320.20 C289.80,320.98 293.72,321.50 295.70,322.00 C297.68,322.50 301.90,322.60 301.70,323.20 C301.50,323.80 294.50,324.80 294.50,325.60 C294.50,326.40 301.10,327.20 301.70,328.00 C302.30,328.80 297.90,329.62 298.10,330.40 C298.30,331.18 301.92,331.82 302.90,332.70 C303.88,333.58 303.42,334.60 304.00,335.70 C304.58,336.80 305.90,338.50 306.40,339.30 C306.90,340.10 307.20,339.78 307.00,340.50 C306.80,341.22 305.10,342.30 305.20,343.60 C305.30,344.90 307.30,346.92 307.60,348.30 C307.90,349.68 306.80,350.50 307.00,351.90 C307.20,353.30 308.20,355.12 308.80,356.70 C309.40,358.28 310.20,359.22 310.60,361.40 C311.00,363.58 310.90,366.82 311.20,369.80 C311.50,372.78 312.17,375.93 312.40,379.30 C312.63,382.67 312.58,383.90 312.60,390.00 C312.62,396.10 312.52,411.58 312.50,415.90" fill="none" stroke="#ff1a1a" stroke-width="1.0" stroke-linejoin="round"/>
<line x1="312.40" y1="242.10" x2="312.40" y2="286.00" stroke="#111" stroke-width="1" />
<path d="313.0,242.1" />
<path d="M313.00,242.10 L312.70,286.20" fill="none" stroke="#ff1a1a" stroke-width="1.0" stroke-linejoin="round"/>
<text x="329.5" y="316.5" style="font-family:'Liberation Sans',sans-serif;font-size:9.6px;font-weight:bold;font-style:italic">d<tspan font-size="6" dy="2">yz</tspan><tspan dy="-2">/d</tspan><tspan font-size="6" dy="2">xz</tspan></text>
<line x1="335.20" y1="322.40" x2="329.50" y2="329.00" stroke="#000" stroke-width="1" />
<path d="M327.6,330.6 L328.3,326.6 L331.2,329.0 Z" fill="#000"/>
<path d="M397.60,242.10 C397.62,250.08 397.58,280.43 397.70,290.00 C397.82,299.57 397.92,296.83 398.30,299.50 C398.68,302.17 399.40,303.62 400.00,306.00 C400.60,308.38 401.10,311.90 401.90,313.80 C402.70,315.70 405.00,316.40 404.80,317.40 C404.60,318.40 399.60,318.62 400.70,319.80 C401.80,320.98 407.63,323.12 411.40,324.50 C415.17,325.88 422.50,327.02 423.30,328.10 C424.10,329.18 417.78,330.20 416.20,331.00 C414.62,331.80 412.62,332.20 413.80,332.90 C414.98,333.60 423.70,334.42 423.30,335.20 C422.90,335.98 414.97,336.80 411.40,337.60 C407.83,338.40 403.17,338.80 401.90,340.00 C400.63,341.20 403.72,342.42 403.80,344.80 C403.88,347.18 402.92,351.53 402.40,354.30 C401.88,357.07 401.38,358.62 400.70,361.40 C400.02,364.18 398.90,367.82 398.30,371.00 C397.70,374.18 397.25,376.50 397.10,380.50 C396.95,384.50 397.38,389.10 397.40,395.00 C397.42,400.90 397.23,412.42 397.20,415.90 L397.10,415.90 L397.10,242.10 Z" fill="url(#eBlk)" stroke="none"/>
<path d="M397.60,242.10 C397.62,250.08 397.58,280.43 397.70,290.00 C397.82,299.57 397.92,296.83 398.30,299.50 C398.68,302.17 399.40,303.62 400.00,306.00 C400.60,308.38 401.10,311.90 401.90,313.80 C402.70,315.70 405.00,316.40 404.80,317.40 C404.60,318.40 399.60,318.62 400.70,319.80 C401.80,320.98 407.63,323.12 411.40,324.50 C415.17,325.88 422.50,327.02 423.30,328.10 C424.10,329.18 417.78,330.20 416.20,331.00 C414.62,331.80 412.62,332.20 413.80,332.90 C414.98,333.60 423.70,334.42 423.30,335.20 C422.90,335.98 414.97,336.80 411.40,337.60 C407.83,338.40 403.17,338.80 401.90,340.00 C400.63,341.20 403.72,342.42 403.80,344.80 C403.88,347.18 402.92,351.53 402.40,354.30 C401.88,357.07 401.38,358.62 400.70,361.40 C400.02,364.18 398.90,367.82 398.30,371.00 C397.70,374.18 397.25,376.50 397.10,380.50 C396.95,384.50 397.38,389.10 397.40,395.00 C397.42,400.90 397.23,412.42 397.20,415.90" fill="none" stroke="#111" stroke-width="1.0" stroke-linejoin="round"/>
<path d="M396.80,242.10 C396.75,247.58 396.80,267.85 396.50,275.00 C396.20,282.15 395.00,282.17 395.00,285.00 C395.00,287.83 396.33,289.58 396.50,292.00 C396.67,294.42 396.68,297.45 396.00,299.50 C395.32,301.55 393.40,302.72 392.40,304.30 C391.40,305.88 390.80,307.42 390.00,309.00 C389.20,310.58 389.18,312.20 387.60,313.80 C386.02,315.40 382.88,317.22 380.50,318.60 C378.12,319.98 375.77,321.00 373.30,322.10 C370.83,323.20 365.30,324.20 365.70,325.20 C366.10,326.20 372.45,327.02 375.70,328.10 C378.95,329.18 383.02,330.52 385.20,331.70 C387.38,332.88 387.80,333.82 388.80,335.20 C389.80,336.58 390.80,337.62 391.20,340.00 C391.60,342.38 390.80,346.72 391.20,349.50 C391.60,352.28 392.80,353.92 393.60,356.70 C394.40,359.48 395.48,363.03 396.00,366.20 C396.52,369.37 396.57,370.90 396.70,375.70 C396.83,380.50 396.77,388.30 396.80,395.00 C396.83,401.70 396.88,412.42 396.90,415.90 L397.10,415.90 L397.10,242.10 Z" fill="url(#eRed)" stroke="none"/>
<path d="M396.80,242.10 C396.75,247.58 396.80,267.85 396.50,275.00 C396.20,282.15 395.00,282.17 395.00,285.00 C395.00,287.83 396.33,289.58 396.50,292.00 C396.67,294.42 396.68,297.45 396.00,299.50 C395.32,301.55 393.40,302.72 392.40,304.30 C391.40,305.88 390.80,307.42 390.00,309.00 C389.20,310.58 389.18,312.20 387.60,313.80 C386.02,315.40 382.88,317.22 380.50,318.60 C378.12,319.98 375.77,321.00 373.30,322.10 C370.83,323.20 365.30,324.20 365.70,325.20 C366.10,326.20 372.45,327.02 375.70,328.10 C378.95,329.18 383.02,330.52 385.20,331.70 C387.38,332.88 387.80,333.82 388.80,335.20 C389.80,336.58 390.80,337.62 391.20,340.00 C391.60,342.38 390.80,346.72 391.20,349.50 C391.60,352.28 392.80,353.92 393.60,356.70 C394.40,359.48 395.48,363.03 396.00,366.20 C396.52,369.37 396.57,370.90 396.70,375.70 C396.83,380.50 396.77,388.30 396.80,395.00 C396.83,401.70 396.88,412.42 396.90,415.90" fill="none" stroke="#ff1a1a" stroke-width="1.0" stroke-linejoin="round"/>
<path d="M396.30,242.10 C396.27,243.75 396.65,249.77 396.10,252.00 C395.55,254.23 394.42,254.37 393.00,255.50 C391.58,256.63 387.60,257.72 387.60,258.80 C387.60,259.88 391.67,260.97 393.00,262.00 C394.33,263.03 395.18,263.33 395.60,265.00 C396.02,266.67 396.02,270.00 395.50,272.00 C394.98,274.00 392.67,275.50 392.50,277.00 C392.33,278.50 394.67,279.75 394.50,281.00 C394.33,282.25 391.50,283.25 391.50,284.50 C391.50,285.75 394.33,287.17 394.50,288.50 C394.67,289.83 392.33,291.25 392.50,292.50 C392.67,293.75 395.12,294.75 395.50,296.00 C395.88,297.25 395.05,297.67 394.80,300.00 C394.55,302.33 394.00,306.67 394.00,310.00 C394.00,313.33 394.83,315.83 394.80,320.00 C394.77,324.17 393.85,330.00 393.80,335.00 C393.75,340.00 394.30,345.00 394.50,350.00 C394.70,355.00 394.83,360.00 395.00,365.00 C395.17,370.00 395.33,376.50 395.50,380.00 C395.67,383.50 396.58,384.58 396.00,386.00 C395.42,387.42 393.48,387.85 392.00,388.50 C390.52,389.15 387.10,389.43 387.10,389.90 C387.10,390.37 390.52,390.70 392.00,391.30 C393.48,391.90 395.30,391.22 396.00,393.50 C396.70,395.78 396.15,401.27 396.20,405.00 C396.25,408.73 396.28,414.08 396.30,415.90 L397.10,415.90 L397.10,242.10 Z" fill="url(#eOrg)" stroke="none"/>
<path d="M396.30,242.10 C396.27,243.75 396.65,249.77 396.10,252.00 C395.55,254.23 394.42,254.37 393.00,255.50 C391.58,256.63 387.60,257.72 387.60,258.80 C387.60,259.88 391.67,260.97 393.00,262.00 C394.33,263.03 395.18,263.33 395.60,265.00 C396.02,266.67 396.02,270.00 395.50,272.00 C394.98,274.00 392.67,275.50 392.50,277.00 C392.33,278.50 394.67,279.75 394.50,281.00 C394.33,282.25 391.50,283.25 391.50,284.50 C391.50,285.75 394.33,287.17 394.50,288.50 C394.67,289.83 392.33,291.25 392.50,292.50 C392.67,293.75 395.12,294.75 395.50,296.00 C395.88,297.25 395.05,297.67 394.80,300.00 C394.55,302.33 394.00,306.67 394.00,310.00 C394.00,313.33 394.83,315.83 394.80,320.00 C394.77,324.17 393.85,330.00 393.80,335.00 C393.75,340.00 394.30,345.00 394.50,350.00 C394.70,355.00 394.83,360.00 395.00,365.00 C395.17,370.00 395.33,376.50 395.50,380.00 C395.67,383.50 396.58,384.58 396.00,386.00 C395.42,387.42 393.48,387.85 392.00,388.50 C390.52,389.15 387.10,389.43 387.10,389.90 C387.10,390.37 390.52,390.70 392.00,391.30 C393.48,391.90 395.30,391.22 396.00,393.50 C396.70,395.78 396.15,401.27 396.20,405.00 C396.25,408.73 396.28,414.08 396.30,415.90" fill="none" stroke="#ffb000" stroke-width="1.3" stroke-linejoin="round"/>
<path d="M398.30,242.10 C398.30,247.42 398.02,268.10 398.30,274.00 C398.58,279.90 398.40,276.33 400.00,277.50 C401.60,278.67 407.90,279.83 407.90,281.00 C407.90,282.17 401.63,283.33 400.00,284.50 C398.37,285.67 398.18,286.75 398.10,288.00 C398.02,289.25 399.60,290.67 399.50,292.00 C399.40,293.33 397.62,294.67 397.50,296.00 C397.38,297.33 398.38,298.50 398.80,300.00 C399.22,301.50 400.08,303.00 400.00,305.00 C399.92,307.00 398.38,309.50 398.30,312.00 C398.22,314.50 399.50,317.00 399.50,320.00 C399.50,323.00 398.38,325.83 398.30,330.00 C398.22,334.17 398.97,340.00 399.00,345.00 C399.03,350.00 398.62,355.00 398.50,360.00 C398.38,365.00 398.42,370.83 398.30,375.00 C398.18,379.17 397.35,382.83 397.80,385.00 C398.25,387.17 399.93,387.18 401.00,388.00 C402.07,388.82 404.20,389.27 404.20,389.90 C404.20,390.53 402.07,391.12 401.00,391.80 C399.93,392.48 398.37,391.80 397.80,394.00 C397.23,396.20 397.65,401.35 397.60,405.00 C397.55,408.65 397.52,414.08 397.50,415.90 L397.10,415.90 L397.10,242.10 Z" fill="url(#eBlu)" stroke="none"/>
<path d="M398.30,242.10 C398.30,247.42 398.02,268.10 398.30,274.00 C398.58,279.90 398.40,276.33 400.00,277.50 C401.60,278.67 407.90,279.83 407.90,281.00 C407.90,282.17 401.63,283.33 400.00,284.50 C398.37,285.67 398.18,286.75 398.10,288.00 C398.02,289.25 399.60,290.67 399.50,292.00 C399.40,293.33 397.62,294.67 397.50,296.00 C397.38,297.33 398.38,298.50 398.80,300.00 C399.22,301.50 400.08,303.00 400.00,305.00 C399.92,307.00 398.38,309.50 398.30,312.00 C398.22,314.50 399.50,317.00 399.50,320.00 C399.50,323.00 398.38,325.83 398.30,330.00 C398.22,334.17 398.97,340.00 399.00,345.00 C399.03,350.00 398.62,355.00 398.50,360.00 C398.38,365.00 398.42,370.83 398.30,375.00 C398.18,379.17 397.35,382.83 397.80,385.00 C398.25,387.17 399.93,387.18 401.00,388.00 C402.07,388.82 404.20,389.27 404.20,389.90 C404.20,390.53 402.07,391.12 401.00,391.80 C399.93,392.48 398.37,391.80 397.80,394.00 C397.23,396.20 397.65,401.35 397.60,405.00 C397.55,408.65 397.52,414.08 397.50,415.90" fill="none" stroke="#2233ff" stroke-width="1.3" stroke-linejoin="round"/>
<text x="383.5" y="280.4" text-anchor="end" style="font-family:'Liberation Sans',sans-serif;font-size:8.4px;font-weight:bold;fill:#f5a800"><tspan font-style="italic">d</tspan>-<tspan font-style="italic">σ</tspan>*(unocc)</text>
<line x1="381.70" y1="285.70" x2="389.00" y2="290.00" stroke="#000" stroke-width="1" />
<path d="M391.2,291.4 L387.2,291.3 L388.8,288.3 Z" fill="#000"/>
<text x="413.8" y="357.6" style="font-family:'Liberation Sans',sans-serif;font-size:8.4px;font-weight:bold;fill:#1f2fff">d-σ(occ)</text>
<line x1="412.60" y1="346.40" x2="403.50" y2="341.20" stroke="#000" stroke-width="1" />
<path d="M401.4,340.0 L405.4,340.0 L403.8,343.0 Z" fill="#000"/>
<path d="M465.00,267.00 L460.00,271.00 L465.00,275.00 Z" fill="url(#eOrg)" stroke="none"/>
<path d="M465.00,267.00 L470.50,271.00 L465.00,275.00 Z" fill="url(#eBlu)" stroke="none"/>
<path d="M465.00,279.50 L446.70,284.30 L465.00,289.10 Z" fill="url(#eOrg)" stroke="none"/>
<path d="M465.00,279.50 L482.90,284.30 L465.00,289.10 Z" fill="url(#eBlu)" stroke="none"/>
<path d="M465.00,324.70 L447.40,329.50 L465.00,334.30 Z" fill="url(#eOrg)" stroke="none"/>
<path d="M465.00,324.70 L482.40,329.50 L465.00,334.30 Z" fill="url(#eBlu)" stroke="none"/>
<path d="M465.00,390.90 L456.20,395.70 L465.00,400.50 Z" fill="url(#eOrg)" stroke="none"/>
<path d="M465.00,390.90 L474.30,395.70 L465.00,400.50 Z" fill="url(#eBlu)" stroke="none"/>
<line x1="464.50" y1="242.10" x2="464.50" y2="415.90" stroke="#ffb000" stroke-width="1" />
<line x1="465.60" y1="242.10" x2="465.60" y2="262.00" stroke="#2233ff" stroke-width="1" />
<path d="M465.00,267.00 Q463.75,270.40 460.00,271.00 Q463.75,271.60 465.00,275.00" fill="none" stroke="#ffb000" stroke-width="1"/>
<path d="M465.00,267.00 Q466.38,270.40 470.50,271.00 Q466.38,271.60 465.00,275.00" fill="none" stroke="#2233ff" stroke-width="1"/>
<path d="M465.00,279.50 Q460.43,283.58 446.70,284.30 Q460.43,285.02 465.00,289.10" fill="none" stroke="#ffb000" stroke-width="1"/>
<path d="M465.00,279.50 Q469.48,283.58 482.90,284.30 Q469.48,285.02 465.00,289.10" fill="none" stroke="#2233ff" stroke-width="1"/>
<path d="M465.00,324.70 Q460.60,328.78 447.40,329.50 Q460.60,330.22 465.00,334.30" fill="none" stroke="#ffb000" stroke-width="1"/>
<path d="M465.00,324.70 Q469.35,328.78 482.40,329.50 Q469.35,330.22 465.00,334.30" fill="none" stroke="#2233ff" stroke-width="1"/>
<path d="M465.00,390.90 Q462.80,394.98 456.20,395.70 Q462.80,396.42 465.00,400.50" fill="none" stroke="#ffb000" stroke-width="1"/>
<path d="M465.00,390.90 Q467.32,394.98 474.30,395.70 Q467.32,396.42 465.00,400.50" fill="none" stroke="#2233ff" stroke-width="1"/>
<text x="447.5" y="286.0" text-anchor="end" style="font-family:'Liberation Serif',serif;font-size:11px;font-weight:bold;font-style:italic">π*</text>
<text x="444.5" y="333.0" text-anchor="end" style="font-family:'Liberation Serif',serif;font-size:11px;font-weight:bold;font-style:italic">σ</text>
<text x="449.0" y="398.8" text-anchor="end" style="font-family:'Liberation Serif',serif;font-size:11px;font-weight:bold;font-style:italic">π</text>
<text x="494.90" y="232.60" style="font-family:'Liberation Sans',sans-serif;font-size:15px;font-weight:normal;font-style:normal" text-anchor="start" fill="#000" >f</text>
<line x1="524.70" y1="316.30" x2="675.90" y2="316.30" stroke="#777" stroke-width="0.8" stroke-dasharray="1,1.9"/>
<path d="M600.4,263.7 L552.3,265.0 L600.4,266.3" fill="none" stroke="#444" stroke-width="0.8" stroke-dasharray="1.2,1.4"/>
<path d="M600.4,294.09999999999997 L531.8,295.4 L600.4,296.7" fill="none" stroke="#444" stroke-width="0.8" stroke-dasharray="1.2,1.4"/>
<path d="M600.4,325.4 L669.4,326.7 L600.4,328.0" fill="none" stroke="#444" stroke-width="0.8" stroke-dasharray="1.2,1.4"/>
<path d="M600.4,367.0 L635.1,368.3 L600.4,369.6" fill="none" stroke="#444" stroke-width="0.8" stroke-dasharray="1.2,1.4"/>
<path d="M600.4,389.8 L614.9,391.1 L600.4,392.40000000000003" fill="none" stroke="#444" stroke-width="0.8" stroke-dasharray="1.2,1.4"/>
<path d="M597,253.8 L590,254.5 L597,255.5 M595,267.5 L570,271.5 L585,274 M597,282 L587,284.9 L597,287" fill="none" stroke="#555" stroke-width="0.8" stroke-dasharray="1.2,1.4"/>
<path d="M599.80,258.50 C599.37,258.67 600.35,259.20 597.20,259.50 C594.05,259.80 587.03,260.05 580.90,260.30 C574.77,260.55 565.25,260.70 560.40,261.00 C555.55,261.30 552.48,261.83 551.80,262.10 C551.12,262.37 556.22,262.32 556.30,262.60 C556.38,262.88 553.82,263.38 552.30,263.80 C550.78,264.22 545.85,264.70 547.20,265.10 C548.55,265.50 554.78,265.80 560.40,266.20 C566.02,266.60 576.13,267.08 580.90,267.50 C585.67,267.92 586.78,268.15 589.00,268.70 C591.22,269.25 593.00,270.03 594.20,270.80 C595.40,271.57 595.65,271.77 596.20,273.30 C596.75,274.83 597.10,276.90 597.50,280.00 C597.90,283.10 598.38,289.53 598.60,291.90 C598.82,294.27 599.90,293.40 598.80,294.20 C597.70,295.00 597.37,295.98 592.00,296.70 C586.63,297.42 566.60,297.88 566.60,298.50 C566.60,299.12 586.53,299.77 592.00,300.40 C597.47,301.03 598.20,301.17 599.40,302.30 C600.60,303.43 600.23,306.07 599.20,307.20 C598.17,308.33 596.02,308.58 593.20,309.10 C590.38,309.62 582.30,309.88 582.30,310.30 C582.30,310.72 590.35,311.08 593.20,311.60 C596.05,312.12 598.20,312.83 599.40,313.40 C600.60,313.97 600.23,314.73 600.40,315.00 L600.40,315.00 L600.40,258.50 Z" fill="url(#fBluL)" stroke="none"/>
<path d="M599.80,258.50 C599.37,258.67 600.35,259.20 597.20,259.50 C594.05,259.80 587.03,260.05 580.90,260.30 C574.77,260.55 565.25,260.70 560.40,261.00 C555.55,261.30 552.48,261.83 551.80,262.10 C551.12,262.37 556.22,262.32 556.30,262.60 C556.38,262.88 553.82,263.38 552.30,263.80 C550.78,264.22 545.85,264.70 547.20,265.10 C548.55,265.50 554.78,265.80 560.40,266.20 C566.02,266.60 576.13,267.08 580.90,267.50 C585.67,267.92 586.78,268.15 589.00,268.70 C591.22,269.25 593.00,270.03 594.20,270.80 C595.40,271.57 595.65,271.77 596.20,273.30 C596.75,274.83 597.10,276.90 597.50,280.00 C597.90,283.10 598.38,289.53 598.60,291.90 C598.82,294.27 599.90,293.40 598.80,294.20 C597.70,295.00 597.37,295.98 592.00,296.70 C586.63,297.42 566.60,297.88 566.60,298.50 C566.60,299.12 586.53,299.77 592.00,300.40 C597.47,301.03 598.20,301.17 599.40,302.30 C600.60,303.43 600.23,306.07 599.20,307.20 C598.17,308.33 596.02,308.58 593.20,309.10 C590.38,309.62 582.30,309.88 582.30,310.30 C582.30,310.72 590.35,311.08 593.20,311.60 C596.05,312.12 598.20,312.83 599.40,313.40 C600.60,313.97 600.23,314.73 600.40,315.00" fill="none" stroke="#1f2fff" stroke-width="1.0" stroke-linejoin="round"/>
<path d="M599.40,312.40 C600.32,312.72 603.15,313.67 604.90,314.30 C606.65,314.93 609.90,315.58 609.90,316.20 C609.90,316.82 606.38,317.28 604.90,318.00 C603.42,318.72 601.57,319.17 601.00,320.50 C600.43,321.83 601.27,324.65 601.50,326.00 C601.73,327.35 601.83,327.97 602.40,328.60 C602.97,329.23 605.13,329.40 604.90,329.80 C604.67,330.20 601.57,330.38 601.00,331.00 C600.43,331.62 601.05,331.63 601.50,333.50 C601.95,335.37 602.92,339.72 603.70,342.20 C604.48,344.68 605.48,346.77 606.20,348.40 C606.92,350.03 607.65,351.03 608.00,352.00 C608.35,352.97 609.12,353.30 608.30,354.20 C607.48,355.10 604.32,356.53 603.10,357.40 C601.88,358.27 601.35,357.77 601.00,359.40 C600.65,361.03 599.57,365.67 601.00,367.20 C602.43,368.73 606.53,368.15 609.60,368.60 C612.67,369.05 619.40,369.37 619.40,369.90 C619.40,370.43 612.67,371.15 609.60,371.80 C606.53,372.45 602.43,371.07 601.00,373.80 C599.57,376.53 599.57,385.32 601.00,388.20 C602.43,391.08 609.60,390.13 609.60,391.10 C609.60,392.07 602.43,393.52 601.00,394.00 L600.4,394.0 L600.4,312.4 Z" fill="url(#fRedR)" stroke="none"/>
<path d="M599.30,237.50 C599.27,238.10 599.78,239.98 599.10,241.10 C598.42,242.22 598.23,243.43 595.20,244.20 C592.17,244.97 586.70,245.13 580.90,245.70 C575.10,246.27 562.10,247.08 560.40,247.60 C558.70,248.12 566.95,248.35 570.70,248.80 C574.45,249.25 580.02,249.53 582.90,250.30 C585.78,251.07 587.32,252.55 588.00,253.40 C588.68,254.25 587.77,254.83 587.00,255.40 C586.23,255.97 583.73,256.37 583.40,256.80 C583.07,257.23 584.23,257.47 585.00,258.00 C585.77,258.53 586.98,259.32 588.00,260.00 C589.02,260.68 590.07,261.33 591.10,262.10 C592.13,262.87 593.43,263.83 594.20,264.60 C594.97,265.37 595.20,265.93 595.70,266.70 C596.20,267.47 596.68,268.43 597.20,269.20 C597.72,269.97 598.88,270.70 598.80,271.30 C598.72,271.90 597.22,272.30 596.70,272.80 C596.18,273.30 595.45,273.73 595.70,274.30 C595.95,274.87 597.62,274.85 598.20,276.20 C598.78,277.55 599.10,279.72 599.20,282.40 C599.30,285.08 599.58,290.33 598.80,292.30 C598.02,294.27 598.32,293.57 594.50,294.20 C590.68,294.83 576.32,295.48 575.90,296.10 C575.48,296.72 588.28,297.28 592.00,297.90 C595.72,298.52 597.07,298.67 598.20,299.80 C599.33,300.93 598.60,302.60 598.80,304.70 C599.00,306.80 598.38,310.80 599.40,312.40 C600.42,314.00 603.98,313.98 604.90,314.30 L600.4,314.3 L600.4,237.5 Z" fill="#ffeaea" fill-opacity="0.7" stroke="none"/>
<path d="M599.00,311.20 C599.33,312.43 600.22,316.95 601.00,318.60 C601.78,320.25 602.83,320.17 603.70,321.10 C604.57,322.03 603.72,323.33 606.20,324.20 C608.68,325.07 617.98,325.67 618.60,326.30 C619.22,326.93 612.60,327.32 609.90,328.00 C607.20,328.68 603.88,329.78 602.40,330.40 C600.92,331.02 600.37,331.07 601.00,331.70 C601.63,332.33 604.93,333.48 606.20,334.20 C607.47,334.92 607.47,335.38 608.60,336.00 C609.73,336.62 613.00,337.38 613.00,337.90 C613.00,338.42 608.82,338.58 608.60,339.10 C608.38,339.62 612.32,340.48 611.70,341.00 C611.08,341.52 606.45,341.68 604.90,342.20 C603.35,342.72 603.05,343.27 602.40,344.10 C601.75,344.93 601.30,345.22 601.00,347.20 C600.70,349.18 600.60,352.78 600.60,356.00 C600.60,359.22 599.28,364.18 601.00,366.50 C602.72,368.82 606.85,369.08 610.90,369.90 C614.95,370.72 624.85,370.87 625.30,371.40 C625.75,371.93 617.65,372.60 613.60,373.10 C609.55,373.60 603.10,371.67 601.00,374.40 C598.90,377.13 599.13,386.60 601.00,389.50 C602.87,392.40 612.20,391.10 612.20,391.80 C612.20,392.50 602.87,393.38 601.00,393.70 L600.40,393.70 L600.40,311.20 Z" fill="url(#fBluR)" stroke="none"/>
<path d="M599.00,311.20 C599.33,312.43 600.22,316.95 601.00,318.60 C601.78,320.25 602.83,320.17 603.70,321.10 C604.57,322.03 603.72,323.33 606.20,324.20 C608.68,325.07 617.98,325.67 618.60,326.30 C619.22,326.93 612.60,327.32 609.90,328.00 C607.20,328.68 603.88,329.78 602.40,330.40 C600.92,331.02 600.37,331.07 601.00,331.70 C601.63,332.33 604.93,333.48 606.20,334.20 C607.47,334.92 607.47,335.38 608.60,336.00 C609.73,336.62 613.00,337.38 613.00,337.90 C613.00,338.42 608.82,338.58 608.60,339.10 C608.38,339.62 612.32,340.48 611.70,341.00 C611.08,341.52 606.45,341.68 604.90,342.20 C603.35,342.72 603.05,343.27 602.40,344.10 C601.75,344.93 601.30,345.22 601.00,347.20 C600.70,349.18 600.60,352.78 600.60,356.00 C600.60,359.22 599.28,364.18 601.00,366.50 C602.72,368.82 606.85,369.08 610.90,369.90 C614.95,370.72 624.85,370.87 625.30,371.40 C625.75,371.93 617.65,372.60 613.60,373.10 C609.55,373.60 603.10,371.67 601.00,374.40 C598.90,377.13 599.13,386.60 601.00,389.50 C602.87,392.40 612.20,391.10 612.20,391.80 C612.20,392.50 602.87,393.38 601.00,393.70" fill="none" stroke="#1f2fff" stroke-width="1.0" stroke-linejoin="round"/>
<path d="M599.30,237.50 C599.27,238.10 599.78,239.98 599.10,241.10 C598.42,242.22 598.23,243.43 595.20,244.20 C592.17,244.97 586.70,245.13 580.90,245.70 C575.10,246.27 562.10,247.08 560.40,247.60 C558.70,248.12 566.95,248.35 570.70,248.80 C574.45,249.25 580.02,249.53 582.90,250.30 C585.78,251.07 587.32,252.55 588.00,253.40 C588.68,254.25 587.77,254.83 587.00,255.40 C586.23,255.97 583.73,256.37 583.40,256.80 C583.07,257.23 584.23,257.47 585.00,258.00 C585.77,258.53 586.98,259.32 588.00,260.00 C589.02,260.68 590.07,261.33 591.10,262.10 C592.13,262.87 593.43,263.83 594.20,264.60 C594.97,265.37 595.20,265.93 595.70,266.70 C596.20,267.47 596.68,268.43 597.20,269.20 C597.72,269.97 598.88,270.70 598.80,271.30 C598.72,271.90 597.22,272.30 596.70,272.80 C596.18,273.30 595.45,273.73 595.70,274.30 C595.95,274.87 597.62,274.85 598.20,276.20 C598.78,277.55 599.10,279.72 599.20,282.40 C599.30,285.08 599.58,290.33 598.80,292.30 C598.02,294.27 598.32,293.57 594.50,294.20 C590.68,294.83 576.32,295.48 575.90,296.10 C575.48,296.72 588.28,297.28 592.00,297.90 C595.72,298.52 597.07,298.67 598.20,299.80 C599.33,300.93 598.60,302.60 598.80,304.70 C599.00,306.80 598.38,310.80 599.40,312.40 C600.42,314.00 603.15,313.67 604.90,314.30 C606.65,314.93 609.90,315.58 609.90,316.20 C609.90,316.82 606.38,317.28 604.90,318.00 C603.42,318.72 601.57,319.17 601.00,320.50 C600.43,321.83 601.27,324.65 601.50,326.00 C601.73,327.35 601.83,327.97 602.40,328.60 C602.97,329.23 605.13,329.40 604.90,329.80 C604.67,330.20 601.57,330.38 601.00,331.00 C600.43,331.62 601.05,331.63 601.50,333.50 C601.95,335.37 602.92,339.72 603.70,342.20 C604.48,344.68 605.48,346.77 606.20,348.40 C606.92,350.03 607.65,351.03 608.00,352.00 C608.35,352.97 609.12,353.30 608.30,354.20 C607.48,355.10 604.32,356.53 603.10,357.40 C601.88,358.27 601.35,357.77 601.00,359.40 C600.65,361.03 599.57,365.67 601.00,367.20 C602.43,368.73 606.53,368.15 609.60,368.60 C612.67,369.05 619.40,369.37 619.40,369.90 C619.40,370.43 612.67,371.15 609.60,371.80 C606.53,372.45 602.43,371.07 601.00,373.80 C599.57,376.53 599.57,385.32 601.00,388.20 C602.43,391.08 609.60,390.13 609.60,391.10 C609.60,392.07 602.43,393.52 601.00,394.00" fill="none" stroke="#ff1a1a" stroke-width="1" stroke-linejoin="round"/>
<line x1="600.40" y1="237.20" x2="600.40" y2="395.10" stroke="#000" stroke-width="1.1" />
<rect x="524.7" y="237.2" width="151.19999999999993" height="157.90000000000003" fill="none" stroke="#111" stroke-width="1.1"/>
<line x1="521.30" y1="237.40" x2="524.70" y2="237.40" stroke="#000" stroke-width="1" />
<text x="520.10" y="240.50" style="font-family:'Liberation Serif',serif;font-size:9px;font-weight:normal;font-style:normal" text-anchor="end" fill="#000" >10</text>
<line x1="523.00" y1="257.12" x2="524.70" y2="257.12" stroke="#000" stroke-width="0.9" />
<line x1="521.30" y1="276.85" x2="524.70" y2="276.85" stroke="#000" stroke-width="1" />
<text x="520.10" y="279.95" style="font-family:'Liberation Serif',serif;font-size:9px;font-weight:normal;font-style:normal" text-anchor="end" fill="#000" >5</text>
<line x1="523.00" y1="296.57" x2="524.70" y2="296.57" stroke="#000" stroke-width="0.9" />
<line x1="521.30" y1="316.30" x2="524.70" y2="316.30" stroke="#000" stroke-width="1" />
<text x="520.10" y="319.40" style="font-family:'Liberation Serif',serif;font-size:9px;font-weight:normal;font-style:normal" text-anchor="end" fill="#000" >0</text>
<line x1="523.00" y1="336.03" x2="524.70" y2="336.03" stroke="#000" stroke-width="0.9" />
<line x1="521.30" y1="355.75" x2="524.70" y2="355.75" stroke="#000" stroke-width="1" />
<text x="520.10" y="358.85" style="font-family:'Liberation Serif',serif;font-size:9px;font-weight:normal;font-style:normal" text-anchor="end" fill="#000" >-5</text>
<line x1="523.00" y1="375.48" x2="524.70" y2="375.48" stroke="#000" stroke-width="0.9" />
<line x1="521.30" y1="395.20" x2="524.70" y2="395.20" stroke="#000" stroke-width="1" />
<text x="520.10" y="398.30" style="font-family:'Liberation Serif',serif;font-size:9px;font-weight:normal;font-style:normal" text-anchor="end" fill="#000" >-10</text>
<line x1="525.00" y1="395.10" x2="525.00" y2="398.50" stroke="#000" stroke-width="1" />
<text x="525.00" y="408.30" style="font-family:'Liberation Serif',serif;font-size:9px;font-weight:normal;font-style:normal" text-anchor="middle" fill="#000" >-12</text>
<line x1="543.85" y1="395.10" x2="543.85" y2="396.80" stroke="#000" stroke-width="0.9" />
<line x1="562.70" y1="395.10" x2="562.70" y2="398.50" stroke="#000" stroke-width="1" />
<text x="562.70" y="408.30" style="font-family:'Liberation Serif',serif;font-size:9px;font-weight:normal;font-style:normal" text-anchor="middle" fill="#000" >-6</text>
<line x1="581.55" y1="395.10" x2="581.55" y2="396.80" stroke="#000" stroke-width="0.9" />
<line x1="600.40" y1="395.10" x2="600.40" y2="398.50" stroke="#000" stroke-width="1" />
<text x="600.40" y="408.30" style="font-family:'Liberation Serif',serif;font-size:9px;font-weight:normal;font-style:normal" text-anchor="middle" fill="#000" >0</text>
<line x1="619.25" y1="395.10" x2="619.25" y2="396.80" stroke="#000" stroke-width="0.9" />
<line x1="638.10" y1="395.10" x2="638.10" y2="398.50" stroke="#000" stroke-width="1" />
<text x="638.10" y="408.30" style="font-family:'Liberation Serif',serif;font-size:9px;font-weight:normal;font-style:normal" text-anchor="middle" fill="#000" >6</text>
<line x1="656.95" y1="395.10" x2="656.95" y2="396.80" stroke="#000" stroke-width="0.9" />
<line x1="675.80" y1="395.10" x2="675.80" y2="398.50" stroke="#000" stroke-width="1" />
<text x="675.80" y="408.30" style="font-family:'Liberation Serif',serif;font-size:9px;font-weight:normal;font-style:normal" text-anchor="middle" fill="#000" >12</text>
<text x="503.5" y="326.5" transform="rotate(-90 503.5 326.5)" text-anchor="middle" style="font-family:'Liberation Serif',serif;font-size:9.8px;font-weight:bold">Energy (eV)</text>
<text x="599.50" y="419.30" style="font-family:'Liberation Serif',serif;font-size:9.8px;font-weight:bold;font-style:normal" text-anchor="middle" fill="#000" >-COHP</text>
<text x="534.50" y="283.30" style="font-family:'Liberation Sans',sans-serif;font-size:7.6px;font-weight:bold;font-style:normal" text-anchor="start" fill="#000" >Anti-bonding</text>
<text x="626.00" y="354.40" style="font-family:'Liberation Sans',sans-serif;font-size:7.6px;font-weight:bold;font-style:normal" text-anchor="start" fill="#000" >Bonding</text>
<text x="533.80" y="341.50" style="font-family:'Liberation Serif',serif;font-size:7.3px;font-weight:bold;font-style:normal" text-anchor="start" fill="#000" >ICOHP = -12.0 eV</text>
<text x="533.80" y="354.60" style="font-family:'Liberation Serif',serif;font-size:7.3px;font-weight:bold;font-style:normal" text-anchor="start" fill="#1f2fff" >ICOHP = -11.2 eV</text>
<text x="533.80" y="367.70" style="font-family:'Liberation Serif',serif;font-size:7.3px;font-weight:bold;font-style:normal" text-anchor="start" fill="#ff1a1a" >ICOHP = -10.2 eV</text>
<line x1="606.80" y1="255.30" x2="620.70" y2="255.30" stroke="#222" stroke-width="1.1" stroke-dasharray="2.2,1.2"/>
<line x1="606.80" y1="269.60" x2="620.70" y2="269.60" stroke="#1f2fff" stroke-width="1.2" />
<line x1="606.80" y1="283.60" x2="620.70" y2="283.60" stroke="#ff1a1a" stroke-width="1.2" />
<text x="622.4" y="258.4" style="font-family:'Liberation Serif',serif;font-size:7.9px;font-weight:bold">free C<tspan font-size="5.6" dy="1.7">2</tspan><tspan dy="-1.7">H</tspan><tspan font-size="5.6" dy="1.7">2</tspan></text>
<text x="622.4" y="272.7" style="font-family:'Liberation Serif',serif;font-size:7.9px;font-weight:bold;fill:#1f2fff">CuN<tspan font-size="5.6" dy="1.7">4</tspan><tspan dy="-1.7">*C</tspan><tspan font-size="5.6" dy="1.7">2</tspan><tspan dy="-1.7">H</tspan><tspan font-size="5.6" dy="1.7">2</tspan></text>
<text x="622.4" y="286.7" style="font-family:'Liberation Serif',serif;font-size:7.9px;font-weight:bold;fill:#ff1a1a">Cu<tspan font-size="5.6" dy="1.7">2</tspan><tspan dy="-1.7"> DAs*C</tspan><tspan font-size="5.6" dy="1.7">2</tspan><tspan dy="-1.7">H</tspan><tspan font-size="5.6" dy="1.7">2</tspan></text>
</svg></body></html>
